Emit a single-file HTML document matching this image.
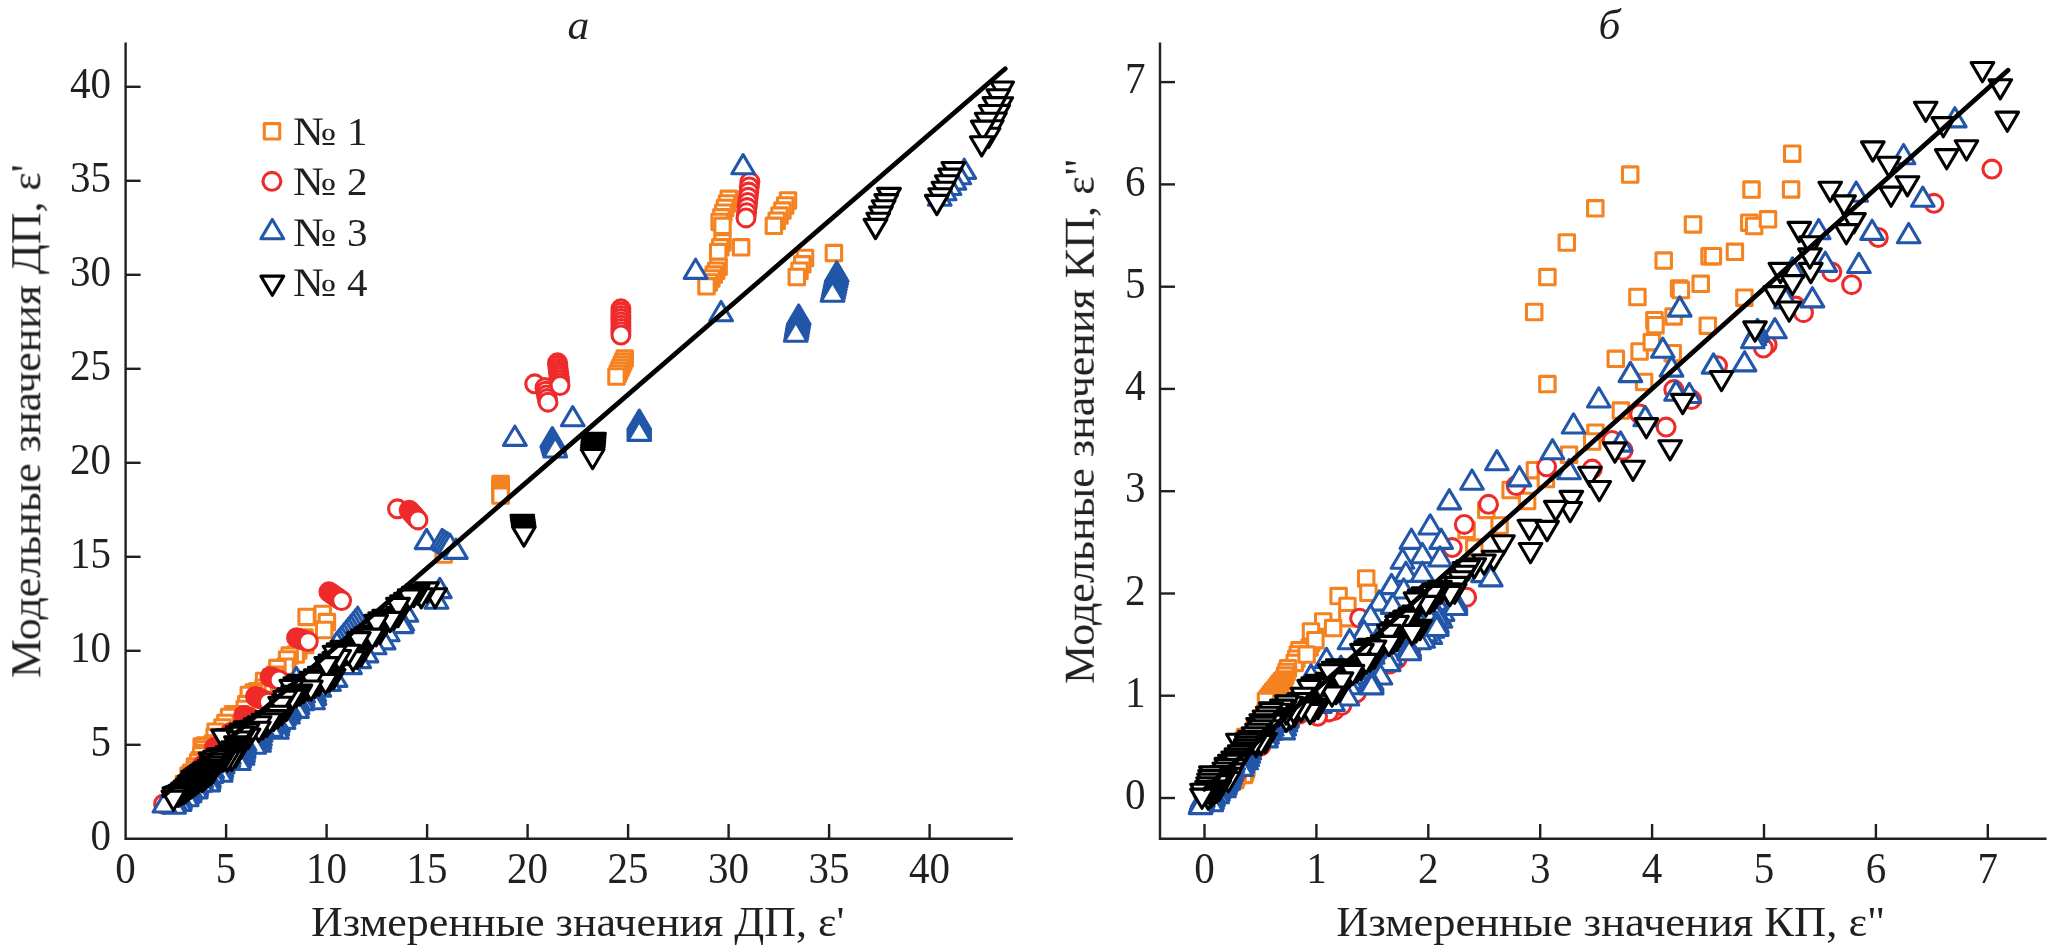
<!DOCTYPE html>
<html><head><meta charset="utf-8"><title>chart</title>
<style>html,body{margin:0;padding:0;background:#fff}body{width:2049px;height:952px;position:relative;overflow:hidden;font-family:"Liberation Serif",serif}</style>
</head><body>
<svg width="2049" height="952" viewBox="0 0 2049 952" style="position:absolute;left:0;top:0">
<rect width="2049" height="952" fill="#fff"/>
<g fill="#fff" stroke-width="3.1" stroke-linejoin="round">
<g stroke="#F58220"><rect x="296.8" y="629.7" width="15.4" height="15.4"/><rect x="297.5" y="637.3" width="15.4" height="15.4"/><rect x="290.6" y="642.7" width="15.4" height="15.4"/><rect x="288.0" y="646.9" width="15.4" height="15.4"/><rect x="282.0" y="647.9" width="15.4" height="15.4"/><rect x="279.4" y="651.7" width="15.4" height="15.4"/><rect x="277.9" y="659.0" width="15.4" height="15.4"/><rect x="269.7" y="660.4" width="15.4" height="15.4"/><rect x="267.5" y="667.1" width="15.4" height="15.4"/><rect x="263.5" y="669.7" width="15.4" height="15.4"/><rect x="256.4" y="673.2" width="15.4" height="15.4"/><rect x="256.0" y="680.0" width="15.4" height="15.4"/><rect x="249.6" y="683.6" width="15.4" height="15.4"/><rect x="246.0" y="684.9" width="15.4" height="15.4"/><rect x="241.1" y="687.2" width="15.4" height="15.4"/><rect x="238.6" y="696.4" width="15.4" height="15.4"/><rect x="237.0" y="701.3" width="15.4" height="15.4"/><rect x="233.2" y="706.6" width="15.4" height="15.4"/><rect x="225.3" y="706.5" width="15.4" height="15.4"/><rect x="221.4" y="709.3" width="15.4" height="15.4"/><rect x="217.7" y="715.3" width="15.4" height="15.4"/><rect x="214.8" y="719.8" width="15.4" height="15.4"/><rect x="207.9" y="724.0" width="15.4" height="15.4"/><rect x="206.9" y="729.3" width="15.4" height="15.4"/><rect x="205.2" y="735.9" width="15.4" height="15.4"/><rect x="197.1" y="737.7" width="15.4" height="15.4"/><rect x="194.0" y="738.9" width="15.4" height="15.4"/><rect x="195.6" y="741.8" width="15.4" height="15.4"/><rect x="195.4" y="745.4" width="15.4" height="15.4"/><rect x="193.6" y="747.8" width="15.4" height="15.4"/><rect x="191.8" y="752.5" width="15.4" height="15.4"/><rect x="190.4" y="754.7" width="15.4" height="15.4"/><rect x="187.3" y="758.7" width="15.4" height="15.4"/><rect x="187.2" y="761.8" width="15.4" height="15.4"/><rect x="183.5" y="765.1" width="15.4" height="15.4"/><rect x="180.9" y="767.9" width="15.4" height="15.4"/><rect x="181.6" y="771.3" width="15.4" height="15.4"/><rect x="179.3" y="775.3" width="15.4" height="15.4"/><rect x="176.2" y="776.3" width="15.4" height="15.4"/><rect x="177.3" y="781.1" width="15.4" height="15.4"/><rect x="175.3" y="784.7" width="15.4" height="15.4"/><rect x="298.9" y="609.2" width="15.4" height="15.4"/><rect x="315.0" y="606.3" width="15.4" height="15.4"/><rect x="319.2" y="614.4" width="15.4" height="15.4"/><rect x="316.5" y="622.3" width="15.4" height="15.4"/><rect x="435.9" y="546.8" width="15.4" height="15.4"/><rect x="492.9" y="476.3" width="15.4" height="15.4"/><rect x="492.9" y="478.6" width="15.4" height="15.4"/><rect x="492.9" y="480.9" width="15.4" height="15.4"/><rect x="492.9" y="483.3" width="15.4" height="15.4"/><rect x="492.9" y="485.6" width="15.4" height="15.4"/><rect x="492.9" y="487.9" width="15.4" height="15.4"/><rect x="617.0" y="350.7" width="15.4" height="15.4"/><rect x="615.6" y="353.7" width="15.4" height="15.4"/><rect x="614.3" y="356.7" width="15.4" height="15.4"/><rect x="612.9" y="359.8" width="15.4" height="15.4"/><rect x="611.5" y="362.8" width="15.4" height="15.4"/><rect x="610.2" y="365.8" width="15.4" height="15.4"/><rect x="608.8" y="368.8" width="15.4" height="15.4"/><rect x="721.1" y="191.1" width="15.4" height="15.4"/><rect x="719.3" y="195.7" width="15.4" height="15.4"/><rect x="717.4" y="200.3" width="15.4" height="15.4"/><rect x="715.6" y="205.0" width="15.4" height="15.4"/><rect x="713.7" y="209.6" width="15.4" height="15.4"/><rect x="711.9" y="214.2" width="15.4" height="15.4"/><rect x="714.8" y="218.1" width="15.4" height="15.4"/><rect x="714.8" y="234.7" width="15.4" height="15.4"/><rect x="712.6" y="239.6" width="15.4" height="15.4"/><rect x="710.5" y="244.4" width="15.4" height="15.4"/><rect x="733.4" y="239.6" width="15.4" height="15.4"/><rect x="710.9" y="259.1" width="15.4" height="15.4"/><rect x="708.5" y="263.0" width="15.4" height="15.4"/><rect x="706.1" y="266.9" width="15.4" height="15.4"/><rect x="703.6" y="270.8" width="15.4" height="15.4"/><rect x="701.2" y="274.7" width="15.4" height="15.4"/><rect x="698.8" y="278.6" width="15.4" height="15.4"/><rect x="780.3" y="192.7" width="15.4" height="15.4"/><rect x="777.5" y="197.8" width="15.4" height="15.4"/><rect x="774.7" y="202.9" width="15.4" height="15.4"/><rect x="771.8" y="207.9" width="15.4" height="15.4"/><rect x="769.0" y="213.0" width="15.4" height="15.4"/><rect x="766.2" y="218.1" width="15.4" height="15.4"/><rect x="797.3" y="250.3" width="15.4" height="15.4"/><rect x="794.6" y="256.6" width="15.4" height="15.4"/><rect x="791.8" y="263.0" width="15.4" height="15.4"/><rect x="789.1" y="269.3" width="15.4" height="15.4"/><rect x="826.2" y="245.4" width="15.4" height="15.4"/></g>
<g stroke="#EE2A2A"><circle cx="255.5" cy="696.5" r="8.95"/><circle cx="257.3" cy="697.3" r="8.95"/><circle cx="259.1" cy="698.1" r="8.95"/><circle cx="260.9" cy="698.9" r="8.95"/><circle cx="262.8" cy="699.7" r="8.95"/><circle cx="264.6" cy="700.5" r="8.95"/><circle cx="266.4" cy="701.3" r="8.95"/><circle cx="268.3" cy="702.1" r="8.95"/><circle cx="243.6" cy="715.4" r="8.95"/><circle cx="245.3" cy="716.1" r="8.95"/><circle cx="247.0" cy="716.9" r="8.95"/><circle cx="248.6" cy="717.6" r="8.95"/><circle cx="250.3" cy="718.4" r="8.95"/><circle cx="252.0" cy="719.1" r="8.95"/><circle cx="253.7" cy="719.9" r="8.95"/><circle cx="255.3" cy="720.6" r="8.95"/><circle cx="230.3" cy="732.6" r="8.95"/><circle cx="231.9" cy="733.3" r="8.95"/><circle cx="233.4" cy="733.9" r="8.95"/><circle cx="234.9" cy="734.6" r="8.95"/><circle cx="236.4" cy="735.3" r="8.95"/><circle cx="237.9" cy="736.0" r="8.95"/><circle cx="239.5" cy="736.7" r="8.95"/><circle cx="241.0" cy="737.3" r="8.95"/><circle cx="214.5" cy="747.6" r="8.95"/><circle cx="215.8" cy="748.2" r="8.95"/><circle cx="217.2" cy="748.8" r="8.95"/><circle cx="218.6" cy="749.4" r="8.95"/><circle cx="219.9" cy="750.1" r="8.95"/><circle cx="221.3" cy="750.7" r="8.95"/><circle cx="222.7" cy="751.3" r="8.95"/><circle cx="224.0" cy="751.9" r="8.95"/><circle cx="202.6" cy="765.1" r="8.95"/><circle cx="203.8" cy="765.6" r="8.95"/><circle cx="205.0" cy="766.2" r="8.95"/><circle cx="206.2" cy="766.7" r="8.95"/><circle cx="207.5" cy="767.3" r="8.95"/><circle cx="208.7" cy="767.8" r="8.95"/><circle cx="209.9" cy="768.3" r="8.95"/><circle cx="211.1" cy="768.9" r="8.95"/><circle cx="189.9" cy="781.9" r="8.95"/><circle cx="190.9" cy="782.4" r="8.95"/><circle cx="192.0" cy="782.8" r="8.95"/><circle cx="193.1" cy="783.3" r="8.95"/><circle cx="194.1" cy="783.8" r="8.95"/><circle cx="195.2" cy="784.3" r="8.95"/><circle cx="196.3" cy="784.7" r="8.95"/><circle cx="197.3" cy="785.2" r="8.95"/><circle cx="174.1" cy="796.6" r="8.95"/><circle cx="175.0" cy="797.0" r="8.95"/><circle cx="175.9" cy="797.4" r="8.95"/><circle cx="176.9" cy="797.8" r="8.95"/><circle cx="177.8" cy="798.2" r="8.95"/><circle cx="178.7" cy="798.6" r="8.95"/><circle cx="179.6" cy="799.0" r="8.95"/><circle cx="180.5" cy="799.4" r="8.95"/><circle cx="163.6" cy="804.0" r="8.95"/><circle cx="270.1" cy="676.8" r="8.95"/><circle cx="272.3" cy="677.6" r="8.95"/><circle cx="274.6" cy="678.4" r="8.95"/><circle cx="276.8" cy="679.2" r="8.95"/><circle cx="279.0" cy="680.0" r="8.95"/><circle cx="296.6" cy="637.7" r="8.95"/><circle cx="298.9" cy="638.5" r="8.95"/><circle cx="301.3" cy="639.3" r="8.95"/><circle cx="303.6" cy="640.0" r="8.95"/><circle cx="306.0" cy="640.8" r="8.95"/><circle cx="308.3" cy="641.6" r="8.95"/><circle cx="328.9" cy="591.8" r="8.95"/><circle cx="330.7" cy="593.1" r="8.95"/><circle cx="332.5" cy="594.3" r="8.95"/><circle cx="334.3" cy="595.6" r="8.95"/><circle cx="336.2" cy="596.8" r="8.95"/><circle cx="338.0" cy="598.1" r="8.95"/><circle cx="339.8" cy="599.3" r="8.95"/><circle cx="341.6" cy="600.6" r="8.95"/><circle cx="397.5" cy="508.8" r="8.95"/><circle cx="409.2" cy="510.2" r="8.95"/><circle cx="410.7" cy="511.8" r="8.95"/><circle cx="412.1" cy="513.4" r="8.95"/><circle cx="413.6" cy="515.0" r="8.95"/><circle cx="415.1" cy="516.7" r="8.95"/><circle cx="416.5" cy="518.3" r="8.95"/><circle cx="418.0" cy="519.9" r="8.95"/><circle cx="534.7" cy="383.8" r="8.95"/><circle cx="545.0" cy="387.6" r="8.95"/><circle cx="545.8" cy="391.2" r="8.95"/><circle cx="546.5" cy="394.9" r="8.95"/><circle cx="547.2" cy="398.6" r="8.95"/><circle cx="548.0" cy="402.2" r="8.95"/><circle cx="557.5" cy="362.8" r="8.95"/><circle cx="557.8" cy="365.6" r="8.95"/><circle cx="558.1" cy="368.5" r="8.95"/><circle cx="558.4" cy="371.3" r="8.95"/><circle cx="558.8" cy="374.1" r="8.95"/><circle cx="559.1" cy="377.0" r="8.95"/><circle cx="559.4" cy="379.8" r="8.95"/><circle cx="559.7" cy="382.7" r="8.95"/><circle cx="560.0" cy="385.5" r="8.95"/><circle cx="620.9" cy="308.8" r="8.95"/><circle cx="620.9" cy="312.1" r="8.95"/><circle cx="620.9" cy="315.4" r="8.95"/><circle cx="620.9" cy="318.6" r="8.95"/><circle cx="620.9" cy="321.9" r="8.95"/><circle cx="620.9" cy="325.2" r="8.95"/><circle cx="620.9" cy="328.4" r="8.95"/><circle cx="620.9" cy="331.7" r="8.95"/><circle cx="620.9" cy="335.0" r="8.95"/><circle cx="749.9" cy="181.8" r="8.95"/><circle cx="749.3" cy="187.0" r="8.95"/><circle cx="748.8" cy="192.1" r="8.95"/><circle cx="748.2" cy="197.3" r="8.95"/><circle cx="747.7" cy="202.4" r="8.95"/><circle cx="747.1" cy="207.6" r="8.95"/><circle cx="746.6" cy="212.7" r="8.95"/><circle cx="746.0" cy="217.9" r="8.95"/></g>
<g stroke="#2256A8"><path d="M428.4 597.6L439.8 578.4L451.2 597.6Z"/><path d="M425.1 608.2L436.5 589.0L447.9 608.2Z"/><path d="M395.0 621.2L406.4 602.0L417.8 621.2Z"/><path d="M390.9 630.2L402.3 611.0L413.7 630.2Z"/><path d="M390.1 632.6L401.5 613.4L412.9 632.6Z"/><path d="M376.3 640.8L387.7 621.6L399.1 640.8Z"/><path d="M372.2 648.9L383.6 629.7L395.0 648.9Z"/><path d="M363.2 653.8L374.6 634.6L386.0 653.8Z"/><path d="M355.1 661.9L366.5 642.7L377.9 661.9Z"/><path d="M347.8 667.6L359.2 648.4L370.6 667.6Z"/><path d="M338.6 673.6L350.0 654.4L361.4 673.6Z"/><path d="M324.1 686.4L335.5 667.2L346.9 686.4Z"/><path d="M317.6 690.4L329.0 671.2L340.4 690.4Z"/><path d="M307.9 696.1L319.3 676.9L330.7 696.1Z"/><path d="M303.0 704.3L314.4 685.1L325.8 704.3Z"/><path d="M291.6 708.4L303.0 689.2L314.4 708.4Z"/><path d="M324.8 653.2L336.2 634.0L347.6 653.2Z"/><path d="M284.9 686.6L296.3 667.4L307.7 686.6Z"/><path d="M302.9 700.8L314.2 681.6L325.6 700.8Z"/><path d="M302.3 704.8L313.6 685.6L325.0 704.8Z"/><path d="M301.7 708.8L313.1 689.6L324.4 708.8Z"/><path d="M291.9 702.0L303.3 682.8L314.6 702.0Z"/><path d="M291.3 705.8L302.7 686.6L314.0 705.8Z"/><path d="M290.8 709.7L302.1 690.5L313.5 709.7Z"/><path d="M286.8 709.9L298.1 690.7L309.5 709.9Z"/><path d="M286.2 713.6L297.6 694.4L308.9 713.6Z"/><path d="M285.6 717.4L297.0 698.2L308.3 717.4Z"/><path d="M277.8 715.7L289.2 696.5L300.5 715.7Z"/><path d="M277.3 719.4L288.6 700.2L300.0 719.4Z"/><path d="M276.7 723.0L288.1 703.8L299.4 723.0Z"/><path d="M273.2 721.3L284.6 702.1L295.9 721.3Z"/><path d="M272.7 724.9L284.0 705.7L295.4 724.9Z"/><path d="M272.2 728.4L283.5 709.2L294.9 728.4Z"/><path d="M266.6 731.4L277.9 712.2L289.3 731.4Z"/><path d="M266.0 734.9L277.4 715.7L288.7 734.9Z"/><path d="M265.5 738.3L276.9 719.1L288.2 738.3Z"/><path d="M260.6 729.7L272.0 710.5L283.3 729.7Z"/><path d="M260.1 733.0L271.5 713.8L282.8 733.0Z"/><path d="M259.6 736.4L271.0 717.2L282.3 736.4Z"/><path d="M250.3 734.7L261.7 715.5L273.0 734.7Z"/><path d="M249.8 738.0L261.2 718.8L272.5 738.0Z"/><path d="M249.3 741.2L260.7 722.0L272.0 741.2Z"/><path d="M248.6 744.9L259.9 725.7L271.3 744.9Z"/><path d="M248.1 748.1L259.5 728.9L270.8 748.1Z"/><path d="M247.6 751.3L259.0 732.1L270.3 751.3Z"/><path d="M243.7 747.1L255.1 727.9L266.4 747.1Z"/><path d="M243.3 750.2L254.6 731.0L266.0 750.2Z"/><path d="M242.8 753.3L254.2 734.1L265.5 753.3Z"/><path d="M233.2 750.3L244.5 731.1L255.9 750.3Z"/><path d="M232.7 753.4L244.1 734.2L255.4 753.4Z"/><path d="M232.3 756.4L243.6 737.2L255.0 756.4Z"/><path d="M232.0 758.4L243.4 739.2L254.7 758.4Z"/><path d="M231.6 761.4L242.9 742.2L254.3 761.4Z"/><path d="M231.1 764.3L242.5 745.1L253.8 764.3Z"/><path d="M228.2 763.8L239.5 744.6L250.9 763.8Z"/><path d="M227.8 766.7L239.1 747.5L250.5 766.7Z"/><path d="M227.3 769.5L238.7 750.3L250.0 769.5Z"/><path d="M217.5 763.3L228.9 744.1L240.2 763.3Z"/><path d="M217.1 766.1L228.4 746.9L239.8 766.1Z"/><path d="M216.7 768.9L228.0 749.7L239.4 768.9Z"/><path d="M212.0 767.6L223.4 748.4L234.7 767.6Z"/><path d="M211.6 770.3L223.0 751.1L234.3 770.3Z"/><path d="M211.2 773.0L222.6 753.8L233.9 773.0Z"/><path d="M210.0 776.0L221.3 756.8L232.7 776.0Z"/><path d="M209.6 778.7L220.9 759.5L232.3 778.7Z"/><path d="M209.2 781.3L220.6 762.1L231.9 781.3Z"/><path d="M200.8 777.3L212.2 758.1L223.5 777.3Z"/><path d="M200.4 779.8L211.8 760.6L223.1 779.8Z"/><path d="M200.1 782.4L211.4 763.2L222.8 782.4Z"/><path d="M197.6 786.0L209.0 766.8L220.3 786.0Z"/><path d="M197.3 788.4L208.6 769.2L220.0 788.4Z"/><path d="M196.9 790.9L208.2 771.7L219.6 790.9Z"/><path d="M189.9 786.4L201.3 767.2L212.6 786.4Z"/><path d="M189.6 788.8L200.9 769.6L212.3 788.8Z"/><path d="M189.2 791.2L200.6 772.0L211.9 791.2Z"/><path d="M185.0 793.3L196.4 774.1L207.7 793.3Z"/><path d="M184.7 795.6L196.0 776.4L207.4 795.6Z"/><path d="M184.4 797.9L195.7 778.7L207.1 797.9Z"/><path d="M178.9 797.4L190.2 778.2L201.6 797.4Z"/><path d="M178.6 799.6L189.9 780.4L201.3 799.6Z"/><path d="M178.2 801.8L189.6 782.6L200.9 801.8Z"/><path d="M175.9 801.4L187.3 782.2L198.6 801.4Z"/><path d="M175.6 803.5L187.0 784.3L198.3 803.5Z"/><path d="M175.3 805.7L186.7 786.5L198.0 805.7Z"/><path d="M168.9 806.4L180.2 787.2L191.6 806.4Z"/><path d="M168.6 808.5L179.9 789.3L191.3 808.5Z"/><path d="M168.2 810.5L179.6 791.3L190.9 810.5Z"/><path d="M163.3 809.3L174.6 790.1L186.0 809.3Z"/><path d="M163.0 811.2L174.3 792.0L185.7 811.2Z"/><path d="M162.7 813.2L174.0 794.0L185.4 813.2Z"/><path d="M153.1 812.0L164.4 792.8L175.8 812.0Z"/><path d="M346.3 626.4L357.7 607.2L369.1 626.4Z"/><path d="M344.0 629.2L355.4 610.0L366.8 629.2Z"/><path d="M341.7 632.0L353.1 612.8L364.4 632.0Z"/><path d="M339.4 634.8L350.8 615.6L362.2 634.8Z"/><path d="M337.1 637.6L348.5 618.4L359.9 637.6Z"/><path d="M334.8 640.4L346.2 621.2L357.6 640.4Z"/><path d="M332.5 643.2L343.9 624.0L355.2 643.2Z"/><path d="M330.2 646.0L341.6 626.8L353.0 646.0Z"/><path d="M327.9 648.8L339.3 629.6L350.7 648.8Z"/><path d="M325.6 651.6L337.0 632.4L348.4 651.6Z"/><path d="M415.2 548.6L426.6 529.4L438.0 548.6Z"/><path d="M430.8 548.6L442.2 529.4L453.6 548.6Z"/><path d="M433.4 550.2L444.8 531.0L456.2 550.2Z"/><path d="M436.0 551.8L447.4 532.6L458.8 551.8Z"/><path d="M438.6 553.4L450.0 534.2L461.4 553.4Z"/><path d="M444.5 558.4L455.9 539.2L467.2 558.4Z"/><path d="M503.5 445.4L514.9 426.2L526.2 445.4Z"/><path d="M540.9 446.8L552.3 427.6L563.6 446.8Z"/><path d="M541.5 448.8L552.9 429.6L564.2 448.8Z"/><path d="M542.1 450.9L553.5 431.7L564.8 450.9Z"/><path d="M542.7 452.9L554.0 433.7L565.4 452.9Z"/><path d="M543.3 455.0L554.6 435.8L566.0 455.0Z"/><path d="M543.9 457.0L555.2 437.8L566.6 457.0Z"/><path d="M561.4 425.8L572.7 406.6L584.1 425.8Z"/><path d="M627.9 429.3L639.3 410.1L650.6 429.3Z"/><path d="M627.9 431.5L639.3 412.3L650.6 431.5Z"/><path d="M627.9 433.7L639.3 414.5L650.6 433.7Z"/><path d="M627.9 436.0L639.3 416.8L650.6 436.0Z"/><path d="M627.9 438.2L639.3 419.0L650.6 438.2Z"/><path d="M627.9 440.4L639.3 421.2L650.6 440.4Z"/><path d="M709.8 320.7L721.1 301.5L732.5 320.7Z"/><path d="M684.2 278.4L695.6 259.2L707.0 278.4Z"/><path d="M731.8 173.8L743.1 154.6L754.5 173.8Z"/><path d="M787.4 324.2L798.7 305.0L810.1 324.2Z"/><path d="M786.9 326.6L798.3 307.4L809.6 326.6Z"/><path d="M786.5 329.1L797.9 309.9L809.2 329.1Z"/><path d="M786.1 331.5L797.5 312.3L808.8 331.5Z"/><path d="M785.7 333.9L797.0 314.7L808.4 333.9Z"/><path d="M785.3 336.3L796.6 317.1L808.0 336.3Z"/><path d="M784.9 338.8L796.2 319.6L807.6 338.8Z"/><path d="M784.4 341.2L795.8 322.0L807.1 341.2Z"/><path d="M825.4 281.2L836.8 262.0L848.1 281.2Z"/><path d="M824.8 284.1L836.2 264.9L847.5 284.1Z"/><path d="M824.2 286.9L835.6 267.7L846.9 286.9Z"/><path d="M823.6 289.8L835.0 270.6L846.3 289.8Z"/><path d="M823.0 292.6L834.3 273.4L845.7 292.6Z"/><path d="M822.4 295.5L833.7 276.3L845.1 295.5Z"/><path d="M821.8 298.3L833.1 279.1L844.5 298.3Z"/><path d="M821.1 301.2L832.5 282.0L843.9 301.2Z"/><path d="M952.9 178.4L964.2 159.2L975.6 178.4Z"/><path d="M948.0 183.8L959.3 164.6L970.7 183.8Z"/><path d="M943.1 189.1L954.4 169.9L965.8 189.1Z"/><path d="M938.1 194.5L949.5 175.3L960.9 194.5Z"/><path d="M933.2 199.8L944.6 180.6L956.0 199.8Z"/><path d="M928.4 205.2L939.7 186.0L951.1 205.2Z"/></g>
<g stroke="#000000"><path d="M423.8 588.7L435.1 607.9L446.5 588.7Z"/><path d="M415.6 582.9L427.0 602.1L438.4 582.9Z"/><path d="M409.9 588.7L421.3 607.9L432.7 588.7Z"/><path d="M406.3 584.9L417.7 604.1L429.1 584.9Z"/><path d="M394.6 593.4L406.0 612.6L417.4 593.4Z"/><path d="M386.8 607.4L398.1 626.6L409.5 607.4Z"/><path d="M372.8 610.3L384.2 629.5L395.6 610.3Z"/><path d="M368.8 624.1L380.2 643.3L391.6 624.1Z"/><path d="M355.5 627.6L366.9 646.8L378.2 627.6Z"/><path d="M349.8 646.7L361.1 665.9L372.5 646.7Z"/><path d="M345.1 640.3L356.5 659.5L367.9 640.3Z"/><path d="M335.8 645.5L347.2 664.7L358.6 645.5Z"/><path d="M331.2 641.2L342.6 660.4L354.0 641.2Z"/><path d="M323.0 652.6L334.4 671.8L345.8 652.6Z"/><path d="M322.2 669.5L333.6 688.7L345.0 669.5Z"/><path d="M308.4 667.2L319.8 686.4L331.2 667.2Z"/><path d="M307.5 676.0L318.9 695.2L330.2 676.0Z"/><path d="M296.1 680.9L307.5 700.1L318.9 680.9Z"/><path d="M288.0 675.4L299.4 694.6L310.8 675.4Z"/><path d="M402.3 587.4L413.7 606.6L425.1 587.4Z"/><path d="M390.6 595.9L402.0 615.1L413.4 595.9Z"/><path d="M382.8 609.9L394.1 629.1L405.5 609.9Z"/><path d="M368.8 612.8L380.2 632.0L391.6 612.8Z"/><path d="M364.8 626.6L376.2 645.8L387.6 626.6Z"/><path d="M351.5 630.1L362.9 649.3L374.2 630.1Z"/><path d="M345.8 649.2L357.1 668.4L368.5 649.2Z"/><path d="M341.1 642.8L352.5 662.0L363.9 642.8Z"/><path d="M331.8 648.0L343.2 667.2L354.6 648.0Z"/><path d="M327.2 643.7L338.6 662.9L350.0 643.7Z"/><path d="M319.0 655.1L330.4 674.3L341.8 655.1Z"/><path d="M318.2 672.0L329.6 691.2L341.0 672.0Z"/><path d="M304.4 669.7L315.8 688.9L327.2 669.7Z"/><path d="M303.5 678.5L314.9 697.7L326.2 678.5Z"/><path d="M292.1 683.4L303.5 702.6L314.9 683.4Z"/><path d="M284.0 677.9L295.4 697.1L306.8 677.9Z"/><path d="M398.3 589.9L409.7 609.1L421.1 589.9Z"/><path d="M386.6 598.4L398.0 617.6L409.4 598.4Z"/><path d="M378.8 612.4L390.1 631.6L401.5 612.4Z"/><path d="M364.8 615.3L376.2 634.5L387.6 615.3Z"/><path d="M360.8 629.1L372.2 648.3L383.6 629.1Z"/><path d="M347.5 632.6L358.9 651.8L370.2 632.6Z"/><path d="M341.8 651.7L353.1 670.9L364.5 651.7Z"/><path d="M337.1 645.3L348.5 664.5L359.9 645.3Z"/><path d="M327.8 650.5L339.2 669.7L350.6 650.5Z"/><path d="M323.2 646.2L334.6 665.4L346.0 646.2Z"/><path d="M315.0 657.6L326.4 676.8L337.8 657.6Z"/><path d="M314.2 674.5L325.6 693.7L337.0 674.5Z"/><path d="M300.4 672.2L311.8 691.4L323.2 672.2Z"/><path d="M299.5 681.0L310.9 700.2L322.2 681.0Z"/><path d="M288.1 685.9L299.5 705.1L310.9 685.9Z"/><path d="M280.0 680.4L291.4 699.6L302.8 680.4Z"/><path d="M289.1 685.1L300.4 704.3L311.8 685.1Z"/><path d="M281.8 686.2L293.1 705.4L304.5 686.2Z"/><path d="M276.8 692.3L288.1 711.5L299.5 692.3Z"/><path d="M275.1 701.3L286.4 720.5L297.8 701.3Z"/><path d="M270.5 705.6L281.8 724.8L293.2 705.6Z"/><path d="M266.3 708.7L277.6 727.9L289.0 708.7Z"/><path d="M256.2 711.7L267.6 730.9L278.9 711.7Z"/><path d="M255.4 717.2L266.8 736.4L278.1 717.2Z"/><path d="M244.3 718.8L255.6 738.0L267.0 718.8Z"/><path d="M241.4 722.1L252.7 741.3L264.1 722.1Z"/><path d="M234.3 721.9L245.6 741.1L257.0 721.9Z"/><path d="M285.1 687.6L296.4 706.8L307.8 687.6Z"/><path d="M277.8 688.7L289.1 707.9L300.5 688.7Z"/><path d="M272.8 694.8L284.1 714.0L295.5 694.8Z"/><path d="M271.1 703.8L282.4 723.0L293.8 703.8Z"/><path d="M266.5 708.1L277.8 727.3L289.2 708.1Z"/><path d="M262.3 711.2L273.6 730.4L285.0 711.2Z"/><path d="M252.2 714.2L263.6 733.4L274.9 714.2Z"/><path d="M251.4 719.7L262.8 738.9L274.1 719.7Z"/><path d="M240.3 721.3L251.6 740.5L263.0 721.3Z"/><path d="M237.4 724.6L248.7 743.8L260.1 724.6Z"/><path d="M230.3 724.4L241.6 743.6L253.0 724.4Z"/><path d="M281.1 690.1L292.4 709.3L303.8 690.1Z"/><path d="M273.8 691.2L285.1 710.4L296.5 691.2Z"/><path d="M268.8 697.3L280.1 716.5L291.5 697.3Z"/><path d="M267.1 706.3L278.4 725.5L289.8 706.3Z"/><path d="M262.5 710.6L273.8 729.8L285.2 710.6Z"/><path d="M258.3 713.7L269.6 732.9L281.0 713.7Z"/><path d="M248.2 716.7L259.6 735.9L270.9 716.7Z"/><path d="M247.4 722.2L258.8 741.4L270.1 722.2Z"/><path d="M236.3 723.8L247.6 743.0L259.0 723.8Z"/><path d="M233.4 727.1L244.7 746.3L256.1 727.1Z"/><path d="M226.3 726.9L237.6 746.1L249.0 726.9Z"/><path d="M237.1 729.1L248.4 748.3L259.8 729.1Z"/><path d="M232.0 729.3L243.4 748.5L254.7 729.3Z"/><path d="M226.9 729.5L238.3 748.7L249.6 729.5Z"/><path d="M221.9 729.7L233.2 748.9L244.6 729.7Z"/><path d="M216.8 729.9L228.1 749.1L239.5 729.9Z"/><path d="M211.7 730.1L223.1 749.3L234.4 730.1Z"/><path d="M230.3 727.1L241.6 746.3L253.0 727.1Z"/><path d="M227.4 732.0L238.8 751.2L250.1 732.0Z"/><path d="M224.6 736.9L235.9 756.1L247.3 736.9Z"/><path d="M221.7 741.9L233.1 761.1L244.4 741.9Z"/><path d="M218.9 746.8L230.2 766.0L241.6 746.8Z"/><path d="M216.0 751.7L227.4 770.9L238.7 751.7Z"/><path d="M229.4 739.1L240.8 758.3L252.1 739.1Z"/><path d="M226.1 741.0L237.4 760.2L248.8 741.0Z"/><path d="M222.8 742.9L234.1 762.1L245.5 742.9Z"/><path d="M219.5 744.8L230.8 764.0L242.2 744.8Z"/><path d="M216.1 746.8L227.5 766.0L238.8 746.8Z"/><path d="M212.8 748.7L224.2 767.9L235.5 748.7Z"/><path d="M224.0 747.9L235.3 767.1L246.7 747.9Z"/><path d="M220.6 748.1L232.0 767.3L243.3 748.1Z"/><path d="M217.3 748.3L228.6 767.5L240.0 748.3Z"/><path d="M213.9 748.6L225.3 767.8L236.6 748.6Z"/><path d="M210.6 748.8L222.0 768.0L233.3 748.8Z"/><path d="M207.3 749.0L218.6 768.2L230.0 749.0Z"/><path d="M220.4 751.3L231.8 770.5L243.1 751.3Z"/><path d="M216.2 751.7L227.5 770.9L238.9 751.7Z"/><path d="M211.9 752.0L223.3 771.2L234.6 752.0Z"/><path d="M207.7 752.3L219.0 771.5L230.4 752.3Z"/><path d="M203.4 752.7L214.8 771.9L226.1 752.7Z"/><path d="M199.2 753.0L210.5 772.2L221.9 753.0Z"/><path d="M211.1 751.6L222.5 770.8L233.8 751.6Z"/><path d="M208.0 753.8L219.3 773.0L230.7 753.8Z"/><path d="M204.8 755.9L216.2 775.1L227.5 755.9Z"/><path d="M201.6 758.1L213.0 777.3L224.3 758.1Z"/><path d="M198.5 760.2L209.8 779.4L221.2 760.2Z"/><path d="M195.3 762.4L206.6 781.6L218.0 762.4Z"/><path d="M203.7 751.2L215.0 770.4L226.4 751.2Z"/><path d="M202.1 754.2L213.4 773.4L224.8 754.2Z"/><path d="M200.5 757.3L211.8 776.5L223.2 757.3Z"/><path d="M198.8 760.4L210.2 779.6L221.5 760.4Z"/><path d="M197.2 763.5L208.6 782.7L219.9 763.5Z"/><path d="M195.6 766.5L207.0 785.7L218.3 766.5Z"/><path d="M201.1 763.8L212.5 783.0L223.8 763.8Z"/><path d="M199.0 765.5L210.3 784.7L221.7 765.5Z"/><path d="M196.9 767.2L208.2 786.4L219.6 767.2Z"/><path d="M194.8 768.9L206.1 788.1L217.5 768.9Z"/><path d="M192.7 770.6L204.0 789.8L215.4 770.6Z"/><path d="M190.6 772.4L201.9 791.6L213.3 772.4Z"/><path d="M193.1 763.5L204.5 782.7L215.8 763.5Z"/><path d="M190.8 765.1L202.2 784.3L213.5 765.1Z"/><path d="M188.5 766.7L199.9 785.9L211.2 766.7Z"/><path d="M186.2 768.3L197.6 787.5L208.9 768.3Z"/><path d="M184.0 770.0L195.3 789.2L206.7 770.0Z"/><path d="M181.7 771.6L193.0 790.8L204.4 771.6Z"/><path d="M187.6 770.4L198.9 789.6L210.3 770.4Z"/><path d="M185.7 771.6L197.0 790.8L208.4 771.6Z"/><path d="M183.8 772.8L195.2 792.0L206.5 772.8Z"/><path d="M181.9 773.9L193.3 793.1L204.6 773.9Z"/><path d="M180.1 775.1L191.4 794.3L202.8 775.1Z"/><path d="M178.2 776.3L189.5 795.5L200.9 776.3Z"/><path d="M186.5 774.0L197.8 793.2L209.2 774.0Z"/><path d="M184.0 775.8L195.3 795.0L206.7 775.8Z"/><path d="M181.5 777.6L192.8 796.8L204.2 777.6Z"/><path d="M179.0 779.5L190.3 798.7L201.7 779.5Z"/><path d="M176.5 781.3L187.8 800.5L199.2 781.3Z"/><path d="M174.0 783.2L185.3 802.4L196.7 783.2Z"/><path d="M178.7 777.0L190.0 796.2L201.4 777.0Z"/><path d="M176.4 779.1L187.7 798.3L199.1 779.1Z"/><path d="M174.1 781.1L185.5 800.3L196.8 781.1Z"/><path d="M171.8 783.1L183.2 802.3L194.5 783.1Z"/><path d="M169.6 785.1L180.9 804.3L192.3 785.1Z"/><path d="M167.3 787.1L178.6 806.3L190.0 787.1Z"/><path d="M173.4 783.9L184.7 803.1L196.1 783.9Z"/><path d="M171.3 784.7L182.6 803.9L194.0 784.7Z"/><path d="M169.2 785.5L180.6 804.7L191.9 785.5Z"/><path d="M167.2 786.3L178.5 805.5L189.9 786.3Z"/><path d="M165.1 787.1L176.5 806.3L187.8 787.1Z"/><path d="M163.0 787.9L174.4 807.1L185.7 787.9Z"/><path d="M162.1 791.1L173.4 810.3L184.8 791.1Z"/><path d="M510.9 515.2L522.2 534.4L533.6 515.2Z"/><path d="M511.2 517.5L522.5 536.7L533.9 517.5Z"/><path d="M511.5 519.9L522.9 539.1L534.2 519.9Z"/><path d="M511.9 522.2L523.2 541.4L534.6 522.2Z"/><path d="M512.2 524.6L523.6 543.8L534.9 524.6Z"/><path d="M512.5 526.9L523.9 546.1L535.2 526.9Z"/><path d="M582.6 433.4L594.0 452.6L605.4 433.4Z"/><path d="M582.4 435.7L593.8 454.9L605.1 435.7Z"/><path d="M582.2 438.0L593.6 457.2L605.0 438.0Z"/><path d="M582.0 440.3L593.4 459.5L604.8 440.3Z"/><path d="M581.9 442.6L593.2 461.8L604.6 442.6Z"/><path d="M581.6 444.9L593.0 464.1L604.4 444.9Z"/><path d="M581.5 447.2L592.8 466.4L604.2 447.2Z"/><path d="M581.2 449.5L592.6 468.7L604.0 449.5Z"/><path d="M877.6 188.4L889.0 207.6L900.4 188.4Z"/><path d="M874.9 194.6L886.3 213.8L897.6 194.6Z"/><path d="M872.2 200.8L883.6 220.0L895.0 200.8Z"/><path d="M869.5 207.0L880.9 226.2L892.2 207.0Z"/><path d="M866.9 213.2L878.2 232.4L889.6 213.2Z"/><path d="M864.1 219.4L875.5 238.6L886.9 219.4Z"/><path d="M942.0 162.5L953.4 181.7L964.8 162.5Z"/><path d="M938.7 169.1L950.1 188.3L961.4 169.1Z"/><path d="M935.4 175.7L946.8 194.9L958.1 175.7Z"/><path d="M932.1 182.2L943.4 201.4L954.8 182.2Z"/><path d="M928.8 188.8L940.1 208.0L951.5 188.8Z"/><path d="M925.4 195.4L936.8 214.6L948.1 195.4Z"/><path d="M989.9 97.7L1001.3 116.9L1012.6 97.7Z"/><path d="M986.8 105.4L998.1 124.5L1009.5 105.4Z"/><path d="M983.6 113.0L995.0 132.2L1006.3 113.0Z"/><path d="M980.4 120.7L991.8 139.8L1003.1 120.7Z"/><path d="M977.2 128.3L988.6 147.5L1000.0 128.3Z"/><path d="M990.9 82.0L1002.3 101.2L1013.6 82.0Z"/><path d="M987.0 89.8L998.4 109.0L1009.7 89.8Z"/><path d="M983.1 97.6L994.5 116.8L1005.8 97.6Z"/><path d="M979.2 105.5L990.5 124.7L1001.9 105.5Z"/><path d="M975.3 113.3L986.6 132.5L998.0 113.3Z"/><path d="M971.4 121.1L982.7 140.3L994.1 121.1Z"/><path d="M970.4 136.7L981.7 155.9L993.1 136.7Z"/></g>
<g stroke="#F58220"><rect x="1307.2" y="625.7" width="15.4" height="15.4"/><rect x="1305.4" y="630.4" width="15.4" height="15.4"/><rect x="1303.7" y="635.1" width="15.4" height="15.4"/><rect x="1301.9" y="639.8" width="15.4" height="15.4"/><rect x="1291.7" y="642.6" width="15.4" height="15.4"/><rect x="1290.1" y="646.8" width="15.4" height="15.4"/><rect x="1288.6" y="651.0" width="15.4" height="15.4"/><rect x="1287.0" y="655.2" width="15.4" height="15.4"/><rect x="1280.3" y="660.5" width="15.4" height="15.4"/><rect x="1278.9" y="664.2" width="15.4" height="15.4"/><rect x="1277.5" y="667.9" width="15.4" height="15.4"/><rect x="1276.1" y="671.7" width="15.4" height="15.4"/><rect x="1274.3" y="673.3" width="15.4" height="15.4"/><rect x="1272.5" y="675.5" width="15.4" height="15.4"/><rect x="1270.7" y="677.7" width="15.4" height="15.4"/><rect x="1269.0" y="680.0" width="15.4" height="15.4"/><rect x="1267.2" y="682.2" width="15.4" height="15.4"/><rect x="1265.4" y="684.4" width="15.4" height="15.4"/><rect x="1263.6" y="686.6" width="15.4" height="15.4"/><rect x="1261.9" y="688.9" width="15.4" height="15.4"/><rect x="1260.1" y="691.1" width="15.4" height="15.4"/><rect x="1258.3" y="693.3" width="15.4" height="15.4"/><rect x="1258.1" y="704.7" width="15.4" height="15.4"/><rect x="1257.2" y="707.1" width="15.4" height="15.4"/><rect x="1256.3" y="709.4" width="15.4" height="15.4"/><rect x="1255.4" y="711.7" width="15.4" height="15.4"/><rect x="1254.5" y="714.1" width="15.4" height="15.4"/><rect x="1252.7" y="713.9" width="15.4" height="15.4"/><rect x="1251.9" y="716.2" width="15.4" height="15.4"/><rect x="1251.1" y="718.4" width="15.4" height="15.4"/><rect x="1250.2" y="720.6" width="15.4" height="15.4"/><rect x="1249.4" y="722.9" width="15.4" height="15.4"/><rect x="1246.9" y="722.4" width="15.4" height="15.4"/><rect x="1246.1" y="724.5" width="15.4" height="15.4"/><rect x="1245.3" y="726.7" width="15.4" height="15.4"/><rect x="1244.5" y="728.8" width="15.4" height="15.4"/><rect x="1243.7" y="730.9" width="15.4" height="15.4"/><rect x="1237.6" y="729.2" width="15.4" height="15.4"/><rect x="1236.9" y="731.2" width="15.4" height="15.4"/><rect x="1236.1" y="733.2" width="15.4" height="15.4"/><rect x="1235.4" y="735.3" width="15.4" height="15.4"/><rect x="1234.6" y="737.3" width="15.4" height="15.4"/><rect x="1238.4" y="739.1" width="15.4" height="15.4"/><rect x="1237.6" y="741.0" width="15.4" height="15.4"/><rect x="1236.9" y="742.9" width="15.4" height="15.4"/><rect x="1236.2" y="744.9" width="15.4" height="15.4"/><rect x="1235.5" y="746.8" width="15.4" height="15.4"/><rect x="1239.7" y="749.1" width="15.4" height="15.4"/><rect x="1239.0" y="751.0" width="15.4" height="15.4"/><rect x="1238.3" y="752.8" width="15.4" height="15.4"/><rect x="1237.6" y="754.6" width="15.4" height="15.4"/><rect x="1237.0" y="756.4" width="15.4" height="15.4"/><rect x="1238.7" y="760.3" width="15.4" height="15.4"/><rect x="1238.1" y="762.0" width="15.4" height="15.4"/><rect x="1237.4" y="763.8" width="15.4" height="15.4"/><rect x="1236.8" y="765.5" width="15.4" height="15.4"/><rect x="1236.1" y="767.2" width="15.4" height="15.4"/><rect x="1229.8" y="766.0" width="15.4" height="15.4"/><rect x="1229.2" y="767.6" width="15.4" height="15.4"/><rect x="1228.6" y="769.2" width="15.4" height="15.4"/><rect x="1227.9" y="770.9" width="15.4" height="15.4"/><rect x="1227.3" y="772.5" width="15.4" height="15.4"/><rect x="1222.1" y="772.9" width="15.4" height="15.4"/><rect x="1221.5" y="774.4" width="15.4" height="15.4"/><rect x="1221.0" y="775.9" width="15.4" height="15.4"/><rect x="1220.4" y="777.4" width="15.4" height="15.4"/><rect x="1219.8" y="778.9" width="15.4" height="15.4"/><rect x="1213.5" y="779.9" width="15.4" height="15.4"/><rect x="1213.0" y="781.3" width="15.4" height="15.4"/><rect x="1212.4" y="782.7" width="15.4" height="15.4"/><rect x="1211.9" y="784.1" width="15.4" height="15.4"/><rect x="1211.4" y="785.5" width="15.4" height="15.4"/><rect x="1358.5" y="570.8" width="15.4" height="15.4"/><rect x="1360.7" y="585.1" width="15.4" height="15.4"/><rect x="1330.9" y="588.4" width="15.4" height="15.4"/><rect x="1339.7" y="598.3" width="15.4" height="15.4"/><rect x="1339.7" y="610.5" width="15.4" height="15.4"/><rect x="1315.5" y="613.8" width="15.4" height="15.4"/><rect x="1325.4" y="620.4" width="15.4" height="15.4"/><rect x="1303.3" y="623.7" width="15.4" height="15.4"/><rect x="1307.7" y="632.5" width="15.4" height="15.4"/><rect x="1298.9" y="646.9" width="15.4" height="15.4"/><rect x="1458.9" y="522.2" width="15.4" height="15.4"/><rect x="1491.9" y="517.8" width="15.4" height="15.4"/><rect x="1466.6" y="539.9" width="15.4" height="15.4"/><rect x="1539.7" y="376.4" width="15.4" height="15.4"/><rect x="1608.1" y="351.1" width="15.4" height="15.4"/><rect x="1631.9" y="343.8" width="15.4" height="15.4"/><rect x="1644.1" y="334.5" width="15.4" height="15.4"/><rect x="1665.0" y="345.5" width="15.4" height="15.4"/><rect x="1636.4" y="374.2" width="15.4" height="15.4"/><rect x="1613.2" y="402.9" width="15.4" height="15.4"/><rect x="1587.8" y="425.0" width="15.4" height="15.4"/><rect x="1584.5" y="433.8" width="15.4" height="15.4"/><rect x="1561.3" y="447.0" width="15.4" height="15.4"/><rect x="1527.2" y="462.5" width="15.4" height="15.4"/><rect x="1538.2" y="471.3" width="15.4" height="15.4"/><rect x="1502.9" y="482.3" width="15.4" height="15.4"/><rect x="1519.4" y="493.3" width="15.4" height="15.4"/><rect x="1478.6" y="502.2" width="15.4" height="15.4"/><rect x="1622.5" y="166.9" width="15.4" height="15.4"/><rect x="1587.6" y="200.6" width="15.4" height="15.4"/><rect x="1559.1" y="234.8" width="15.4" height="15.4"/><rect x="1539.7" y="269.4" width="15.4" height="15.4"/><rect x="1526.5" y="304.3" width="15.4" height="15.4"/><rect x="1743.8" y="181.9" width="15.4" height="15.4"/><rect x="1685.3" y="216.7" width="15.4" height="15.4"/><rect x="1741.6" y="215.0" width="15.4" height="15.4"/><rect x="1746.4" y="218.3" width="15.4" height="15.4"/><rect x="1760.3" y="211.6" width="15.4" height="15.4"/><rect x="1727.2" y="244.1" width="15.4" height="15.4"/><rect x="1701.9" y="248.5" width="15.4" height="15.4"/><rect x="1705.2" y="248.5" width="15.4" height="15.4"/><rect x="1656.0" y="252.9" width="15.4" height="15.4"/><rect x="1693.0" y="276.1" width="15.4" height="15.4"/><rect x="1671.4" y="280.7" width="15.4" height="15.4"/><rect x="1673.2" y="282.3" width="15.4" height="15.4"/><rect x="1629.7" y="289.3" width="15.4" height="15.4"/><rect x="1736.7" y="290.0" width="15.4" height="15.4"/><rect x="1665.9" y="308.7" width="15.4" height="15.4"/><rect x="1646.7" y="312.5" width="15.4" height="15.4"/><rect x="1647.8" y="317.5" width="15.4" height="15.4"/><rect x="1700.1" y="318.0" width="15.4" height="15.4"/><rect x="1784.5" y="146.0" width="15.4" height="15.4"/><rect x="1783.4" y="181.7" width="15.4" height="15.4"/></g>
<g stroke="#EE2A2A"><circle cx="1396.8" cy="641.1" r="8.95"/><circle cx="1400.4" cy="642.7" r="8.95"/><circle cx="1404.1" cy="644.3" r="8.95"/><circle cx="1407.7" cy="646.0" r="8.95"/><circle cx="1411.4" cy="647.6" r="8.95"/><circle cx="1382.3" cy="641.5" r="8.95"/><circle cx="1385.9" cy="643.1" r="8.95"/><circle cx="1389.4" cy="644.6" r="8.95"/><circle cx="1393.0" cy="646.2" r="8.95"/><circle cx="1396.6" cy="647.8" r="8.95"/><circle cx="1375.2" cy="652.2" r="8.95"/><circle cx="1378.7" cy="653.8" r="8.95"/><circle cx="1382.1" cy="655.3" r="8.95"/><circle cx="1385.6" cy="656.9" r="8.95"/><circle cx="1389.1" cy="658.4" r="8.95"/><circle cx="1368.3" cy="657.8" r="8.95"/><circle cx="1371.7" cy="659.3" r="8.95"/><circle cx="1375.1" cy="660.8" r="8.95"/><circle cx="1378.5" cy="662.3" r="8.95"/><circle cx="1381.9" cy="663.8" r="8.95"/><circle cx="1355.9" cy="666.0" r="8.95"/><circle cx="1359.2" cy="667.5" r="8.95"/><circle cx="1362.5" cy="669.0" r="8.95"/><circle cx="1365.8" cy="670.4" r="8.95"/><circle cx="1369.1" cy="671.9" r="8.95"/><circle cx="1346.0" cy="672.0" r="8.95"/><circle cx="1349.3" cy="673.5" r="8.95"/><circle cx="1352.5" cy="674.9" r="8.95"/><circle cx="1355.7" cy="676.3" r="8.95"/><circle cx="1358.9" cy="677.7" r="8.95"/><circle cx="1334.4" cy="672.8" r="8.95"/><circle cx="1337.5" cy="674.2" r="8.95"/><circle cx="1340.6" cy="675.6" r="8.95"/><circle cx="1343.8" cy="676.9" r="8.95"/><circle cx="1346.9" cy="678.3" r="8.95"/><circle cx="1326.8" cy="681.6" r="8.95"/><circle cx="1329.8" cy="683.0" r="8.95"/><circle cx="1332.9" cy="684.3" r="8.95"/><circle cx="1335.9" cy="685.7" r="8.95"/><circle cx="1339.0" cy="687.0" r="8.95"/><circle cx="1318.3" cy="690.4" r="8.95"/><circle cx="1321.2" cy="691.7" r="8.95"/><circle cx="1324.2" cy="693.0" r="8.95"/><circle cx="1327.1" cy="694.3" r="8.95"/><circle cx="1330.1" cy="695.6" r="8.95"/><circle cx="1306.6" cy="695.2" r="8.95"/><circle cx="1309.5" cy="696.5" r="8.95"/><circle cx="1312.3" cy="697.7" r="8.95"/><circle cx="1315.2" cy="699.0" r="8.95"/><circle cx="1318.1" cy="700.3" r="8.95"/><circle cx="1295.8" cy="700.0" r="8.95"/><circle cx="1298.6" cy="701.2" r="8.95"/><circle cx="1301.4" cy="702.5" r="8.95"/><circle cx="1304.2" cy="703.7" r="8.95"/><circle cx="1306.9" cy="705.0" r="8.95"/><circle cx="1288.7" cy="709.3" r="8.95"/><circle cx="1291.4" cy="710.5" r="8.95"/><circle cx="1294.1" cy="711.7" r="8.95"/><circle cx="1296.8" cy="712.9" r="8.95"/><circle cx="1299.5" cy="714.1" r="8.95"/><circle cx="1279.5" cy="718.5" r="8.95"/><circle cx="1282.1" cy="719.7" r="8.95"/><circle cx="1284.7" cy="720.8" r="8.95"/><circle cx="1287.3" cy="722.0" r="8.95"/><circle cx="1289.9" cy="723.1" r="8.95"/><circle cx="1266.4" cy="721.6" r="8.95"/><circle cx="1268.9" cy="722.8" r="8.95"/><circle cx="1271.5" cy="723.9" r="8.95"/><circle cx="1274.0" cy="725.0" r="8.95"/><circle cx="1276.5" cy="726.1" r="8.95"/><circle cx="1260.4" cy="733.0" r="8.95"/><circle cx="1262.8" cy="734.1" r="8.95"/><circle cx="1265.3" cy="735.1" r="8.95"/><circle cx="1267.7" cy="736.2" r="8.95"/><circle cx="1270.2" cy="737.3" r="8.95"/><circle cx="1251.5" cy="741.7" r="8.95"/><circle cx="1253.9" cy="742.7" r="8.95"/><circle cx="1256.2" cy="743.8" r="8.95"/><circle cx="1258.6" cy="744.8" r="8.95"/><circle cx="1260.9" cy="745.9" r="8.95"/><circle cx="1243.1" cy="748.8" r="8.95"/><circle cx="1245.3" cy="749.8" r="8.95"/><circle cx="1247.6" cy="750.8" r="8.95"/><circle cx="1249.9" cy="751.8" r="8.95"/><circle cx="1252.1" cy="752.8" r="8.95"/><circle cx="1236.7" cy="759.8" r="8.95"/><circle cx="1238.9" cy="760.8" r="8.95"/><circle cx="1241.0" cy="761.7" r="8.95"/><circle cx="1243.2" cy="762.7" r="8.95"/><circle cx="1245.4" cy="763.7" r="8.95"/><circle cx="1228.6" cy="768.7" r="8.95"/><circle cx="1230.7" cy="769.6" r="8.95"/><circle cx="1232.8" cy="770.5" r="8.95"/><circle cx="1234.9" cy="771.5" r="8.95"/><circle cx="1237.0" cy="772.4" r="8.95"/><circle cx="1220.3" cy="776.3" r="8.95"/><circle cx="1222.3" cy="777.2" r="8.95"/><circle cx="1224.3" cy="778.1" r="8.95"/><circle cx="1226.3" cy="779.0" r="8.95"/><circle cx="1228.3" cy="779.9" r="8.95"/><circle cx="1212.9" cy="785.8" r="8.95"/><circle cx="1214.8" cy="786.7" r="8.95"/><circle cx="1216.7" cy="787.5" r="8.95"/><circle cx="1218.6" cy="788.4" r="8.95"/><circle cx="1220.5" cy="789.2" r="8.95"/><circle cx="1202.8" cy="793.2" r="8.95"/><circle cx="1204.7" cy="794.1" r="8.95"/><circle cx="1206.5" cy="794.9" r="8.95"/><circle cx="1208.3" cy="795.7" r="8.95"/><circle cx="1210.1" cy="796.5" r="8.95"/><circle cx="1334.4" cy="710.4" r="8.95"/><circle cx="1389.6" cy="664.1" r="8.95"/><circle cx="1356.5" cy="692.8" r="8.95"/><circle cx="1464.3" cy="524.4" r="8.95"/><circle cx="1452.2" cy="547.6" r="8.95"/><circle cx="1466.6" cy="597.2" r="8.95"/><circle cx="1441.2" cy="621.5" r="8.95"/><circle cx="1397.0" cy="659.0" r="8.95"/><circle cx="1359.6" cy="618.2" r="8.95"/><circle cx="1341.9" cy="705.3" r="8.95"/><circle cx="1328.7" cy="711.9" r="8.95"/><circle cx="1317.6" cy="716.3" r="8.95"/><circle cx="1673.8" cy="389.6" r="8.95"/><circle cx="1691.5" cy="399.6" r="8.95"/><circle cx="1639.6" cy="413.9" r="8.95"/><circle cx="1666.1" cy="427.1" r="8.95"/><circle cx="1612.1" cy="440.4" r="8.95"/><circle cx="1623.1" cy="450.3" r="8.95"/><circle cx="1592.2" cy="469.1" r="8.95"/><circle cx="1546.6" cy="466.8" r="8.95"/><circle cx="1516.1" cy="485.6" r="8.95"/><circle cx="1488.5" cy="504.3" r="8.95"/><circle cx="1831.8" cy="271.9" r="8.95"/><circle cx="1851.6" cy="284.7" r="8.95"/><circle cx="1795.8" cy="306.1" r="8.95"/><circle cx="1803.5" cy="312.7" r="8.95"/><circle cx="1767.1" cy="344.7" r="8.95"/><circle cx="1763.4" cy="348.0" r="8.95"/><circle cx="1717.5" cy="365.7" r="8.95"/><circle cx="1991.9" cy="169.1" r="8.95"/><circle cx="1933.9" cy="203.3" r="8.95"/><circle cx="1878.3" cy="237.5" r="8.95"/></g>
<g stroke="#2256A8"><path d="M1435.5 607.0L1446.8 587.8L1458.2 607.0Z"/><path d="M1433.4 613.7L1444.7 594.5L1456.1 613.7Z"/><path d="M1431.2 620.4L1442.6 601.2L1453.9 620.4Z"/><path d="M1429.1 627.1L1440.5 607.9L1451.8 627.1Z"/><path d="M1424.6 609.9L1435.9 590.7L1447.3 609.9Z"/><path d="M1422.5 616.5L1433.9 597.3L1445.2 616.5Z"/><path d="M1420.5 623.0L1431.8 603.8L1443.2 623.0Z"/><path d="M1418.4 629.6L1429.7 610.4L1441.1 629.6Z"/><path d="M1425.0 624.2L1436.4 605.0L1447.7 624.2Z"/><path d="M1423.0 630.7L1434.4 611.5L1445.7 630.7Z"/><path d="M1421.0 637.1L1432.3 617.9L1443.7 637.1Z"/><path d="M1419.0 643.5L1430.3 624.3L1441.7 643.5Z"/><path d="M1417.8 628.3L1429.2 609.1L1440.5 628.3Z"/><path d="M1415.8 634.6L1427.2 615.4L1438.5 634.6Z"/><path d="M1413.8 640.9L1425.2 621.7L1436.5 640.9Z"/><path d="M1411.8 647.2L1423.2 628.0L1434.5 647.2Z"/><path d="M1400.1 625.3L1411.5 606.1L1422.8 625.3Z"/><path d="M1398.2 631.4L1409.5 612.2L1420.9 631.4Z"/><path d="M1396.2 637.6L1407.6 618.4L1418.9 637.6Z"/><path d="M1394.3 643.7L1405.6 624.5L1417.0 643.7Z"/><path d="M1389.3 629.8L1400.6 610.6L1412.0 629.8Z"/><path d="M1387.4 635.8L1398.7 616.6L1410.1 635.8Z"/><path d="M1385.4 641.9L1396.8 622.7L1408.1 641.9Z"/><path d="M1383.5 647.9L1394.9 628.7L1406.2 647.9Z"/><path d="M1381.2 628.6L1392.6 609.4L1403.9 628.6Z"/><path d="M1379.3 634.5L1390.7 615.3L1402.0 634.5Z"/><path d="M1377.5 640.4L1388.8 621.2L1400.2 640.4Z"/><path d="M1375.6 646.3L1387.0 627.1L1398.3 646.3Z"/><path d="M1382.7 653.3L1394.1 634.1L1405.4 653.3Z"/><path d="M1380.9 659.0L1392.3 639.8L1403.6 659.0Z"/><path d="M1379.1 664.8L1390.5 645.6L1401.8 664.8Z"/><path d="M1377.3 670.6L1388.6 651.4L1400.0 670.6Z"/><path d="M1366.7 646.3L1378.0 627.1L1389.4 646.3Z"/><path d="M1364.9 651.9L1376.2 632.7L1387.6 651.9Z"/><path d="M1363.1 657.5L1374.5 638.3L1385.8 657.5Z"/><path d="M1361.3 663.2L1372.7 644.0L1384.0 663.2Z"/><path d="M1361.5 655.8L1372.9 636.6L1384.2 655.8Z"/><path d="M1359.8 661.3L1371.1 642.1L1382.5 661.3Z"/><path d="M1358.0 666.8L1369.4 647.6L1380.7 666.8Z"/><path d="M1356.3 672.3L1367.6 653.1L1379.0 672.3Z"/><path d="M1352.6 660.1L1363.9 640.9L1375.3 660.1Z"/><path d="M1350.9 665.4L1362.2 646.2L1373.6 665.4Z"/><path d="M1349.2 670.8L1360.5 651.6L1371.9 670.8Z"/><path d="M1347.5 676.2L1358.8 657.0L1370.2 676.2Z"/><path d="M1351.9 669.1L1363.2 649.9L1374.6 669.1Z"/><path d="M1350.2 674.3L1361.6 655.1L1372.9 674.3Z"/><path d="M1348.6 679.6L1359.9 660.4L1371.3 679.6Z"/><path d="M1346.9 684.8L1358.3 665.6L1369.6 684.8Z"/><path d="M1342.3 678.4L1353.7 659.2L1365.0 678.4Z"/><path d="M1340.7 683.5L1352.1 664.3L1363.4 683.5Z"/><path d="M1339.1 688.6L1350.5 669.4L1361.8 688.6Z"/><path d="M1337.5 693.7L1348.8 674.5L1360.2 693.7Z"/><path d="M1329.6 675.4L1340.9 656.2L1352.3 675.4Z"/><path d="M1328.0 680.3L1339.4 661.1L1350.7 680.3Z"/><path d="M1326.4 685.3L1337.8 666.1L1349.1 685.3Z"/><path d="M1324.9 690.3L1336.2 671.1L1347.6 690.3Z"/><path d="M1319.9 678.6L1331.3 659.4L1342.6 678.6Z"/><path d="M1318.4 683.4L1329.7 664.2L1341.1 683.4Z"/><path d="M1316.8 688.3L1328.2 669.1L1339.5 688.3Z"/><path d="M1315.3 693.1L1326.7 673.9L1338.0 693.1Z"/><path d="M1315.8 684.6L1327.2 665.4L1338.5 684.6Z"/><path d="M1314.3 689.4L1325.7 670.2L1337.0 689.4Z"/><path d="M1312.8 694.1L1324.2 674.9L1335.5 694.1Z"/><path d="M1311.3 698.8L1322.7 679.6L1334.0 698.8Z"/><path d="M1312.9 698.7L1324.2 679.5L1335.6 698.7Z"/><path d="M1311.4 703.3L1322.8 684.1L1334.1 703.3Z"/><path d="M1310.0 707.9L1321.3 688.7L1332.7 707.9Z"/><path d="M1308.5 712.4L1319.9 693.2L1331.2 712.4Z"/><path d="M1296.7 696.7L1308.1 677.5L1319.4 696.7Z"/><path d="M1295.3 701.2L1306.7 682.0L1318.0 701.2Z"/><path d="M1293.9 705.7L1305.3 686.5L1316.6 705.7Z"/><path d="M1292.5 710.1L1303.8 690.9L1315.2 710.1Z"/><path d="M1292.2 705.0L1303.5 685.8L1314.9 705.0Z"/><path d="M1290.8 709.4L1302.2 690.2L1313.5 709.4Z"/><path d="M1289.4 713.7L1300.8 694.5L1312.1 713.7Z"/><path d="M1288.1 718.0L1299.4 698.8L1310.8 718.0Z"/><path d="M1284.5 707.5L1295.8 688.3L1307.2 707.5Z"/><path d="M1283.1 711.7L1294.5 692.5L1305.8 711.7Z"/><path d="M1281.8 715.9L1293.2 696.7L1304.5 715.9Z"/><path d="M1280.5 720.1L1291.8 700.9L1303.2 720.1Z"/><path d="M1276.0 713.6L1287.4 694.4L1298.7 713.6Z"/><path d="M1274.7 717.7L1286.1 698.5L1297.4 717.7Z"/><path d="M1273.4 721.8L1284.8 702.6L1296.1 721.8Z"/><path d="M1272.1 725.9L1283.5 706.7L1294.8 725.9Z"/><path d="M1275.5 727.1L1286.8 707.9L1298.2 727.1Z"/><path d="M1274.2 731.0L1285.6 711.8L1296.9 731.0Z"/><path d="M1273.0 734.9L1284.3 715.7L1295.7 734.9Z"/><path d="M1271.8 738.9L1283.1 719.7L1294.5 738.9Z"/><path d="M1262.9 727.6L1274.2 708.4L1285.6 727.6Z"/><path d="M1261.7 731.4L1273.0 712.2L1284.4 731.4Z"/><path d="M1260.4 735.2L1271.8 716.0L1283.1 735.2Z"/><path d="M1259.2 739.1L1270.6 719.9L1281.9 739.1Z"/><path d="M1258.1 735.9L1269.4 716.7L1280.8 735.9Z"/><path d="M1256.9 739.5L1268.3 720.3L1279.6 739.5Z"/><path d="M1255.7 743.2L1267.1 724.0L1278.4 743.2Z"/><path d="M1254.6 746.9L1265.9 727.7L1277.3 746.9Z"/><path d="M1245.3 739.5L1256.7 720.3L1268.0 739.5Z"/><path d="M1244.2 743.1L1255.5 723.9L1266.9 743.1Z"/><path d="M1243.1 746.6L1254.4 727.4L1265.8 746.6Z"/><path d="M1241.9 750.2L1253.3 731.0L1264.6 750.2Z"/><path d="M1239.7 747.6L1251.1 728.4L1262.4 747.6Z"/><path d="M1238.6 751.0L1250.0 731.8L1261.3 751.0Z"/><path d="M1237.6 754.4L1248.9 735.2L1260.3 754.4Z"/><path d="M1236.5 757.9L1247.8 738.7L1259.2 757.9Z"/><path d="M1238.0 759.0L1249.3 739.8L1260.7 759.0Z"/><path d="M1236.9 762.3L1248.3 743.1L1259.6 762.3Z"/><path d="M1235.9 765.5L1247.2 746.3L1258.6 765.5Z"/><path d="M1234.8 768.8L1246.2 749.6L1257.5 768.8Z"/><path d="M1233.0 765.9L1244.3 746.7L1255.7 765.9Z"/><path d="M1232.0 769.1L1243.3 749.9L1254.7 769.1Z"/><path d="M1231.0 772.2L1242.3 753.0L1253.7 772.2Z"/><path d="M1230.0 775.4L1241.3 756.2L1252.7 775.4Z"/><path d="M1221.8 769.1L1233.2 749.9L1244.5 769.1Z"/><path d="M1220.9 772.1L1232.2 752.9L1243.6 772.1Z"/><path d="M1219.9 775.1L1231.3 755.9L1242.6 775.1Z"/><path d="M1218.9 778.2L1230.3 759.0L1241.6 778.2Z"/><path d="M1219.4 780.6L1230.8 761.4L1242.1 780.6Z"/><path d="M1218.5 783.5L1229.9 764.3L1241.2 783.5Z"/><path d="M1217.6 786.4L1228.9 767.2L1240.3 786.4Z"/><path d="M1216.7 789.3L1228.0 770.1L1239.4 789.3Z"/><path d="M1215.2 788.5L1226.6 769.3L1237.9 788.5Z"/><path d="M1214.4 791.2L1225.7 772.0L1237.1 791.2Z"/><path d="M1213.5 794.0L1224.8 774.8L1236.2 794.0Z"/><path d="M1212.6 796.8L1224.0 777.6L1235.3 796.8Z"/><path d="M1208.3 794.8L1219.7 775.6L1231.0 794.8Z"/><path d="M1207.5 797.5L1218.8 778.3L1230.2 797.5Z"/><path d="M1206.6 800.1L1218.0 780.9L1229.3 800.1Z"/><path d="M1205.8 802.8L1217.1 783.6L1228.5 802.8Z"/><path d="M1202.3 803.2L1213.7 784.0L1225.0 803.2Z"/><path d="M1201.5 805.8L1212.9 786.6L1224.2 805.8Z"/><path d="M1200.7 808.3L1212.1 789.1L1223.4 808.3Z"/><path d="M1199.9 810.8L1211.3 791.6L1222.6 810.8Z"/><path d="M1191.5 806.5L1202.8 787.3L1214.2 806.5Z"/><path d="M1190.7 808.9L1202.1 789.7L1213.4 808.9Z"/><path d="M1189.9 811.3L1201.3 792.1L1212.6 811.3Z"/><path d="M1189.2 813.6L1200.5 794.4L1211.9 813.6Z"/><path d="M1400.1 548.4L1411.4 529.2L1422.8 548.4Z"/><path d="M1418.9 534.0L1430.2 514.8L1441.5 534.0Z"/><path d="M1429.9 548.4L1441.2 529.2L1452.5 548.4Z"/><path d="M1391.2 568.2L1402.6 549.0L1413.9 568.2Z"/><path d="M1411.1 562.7L1422.4 543.5L1433.8 562.7Z"/><path d="M1428.7 566.0L1440.0 546.8L1451.3 566.0Z"/><path d="M1394.6 581.4L1405.9 562.2L1417.2 581.4Z"/><path d="M1411.1 581.4L1422.4 562.2L1433.8 581.4Z"/><path d="M1380.2 593.6L1391.5 574.4L1402.8 593.6Z"/><path d="M1392.4 598.0L1403.7 578.8L1415.0 598.0Z"/><path d="M1368.1 610.1L1379.4 590.9L1390.8 610.1Z"/><path d="M1381.4 613.4L1392.7 594.2L1404.0 613.4Z"/><path d="M1359.2 624.5L1370.6 605.3L1381.9 624.5Z"/><path d="M1352.7 639.9L1364.0 620.7L1375.3 639.9Z"/><path d="M1338.2 648.7L1349.6 629.5L1360.9 648.7Z"/><path d="M1315.2 667.5L1326.5 648.3L1337.8 667.5Z"/><path d="M1299.7 684.0L1311.0 664.8L1322.3 684.0Z"/><path d="M1471.7 581.6L1483.0 562.4L1494.3 581.6Z"/><path d="M1479.5 585.9L1490.8 566.7L1502.1 585.9Z"/><path d="M1444.2 609.6L1455.5 590.4L1466.8 609.6Z"/><path d="M1444.2 612.1L1455.5 592.9L1466.8 612.1Z"/><path d="M1444.2 614.5L1455.5 595.3L1466.8 614.5Z"/><path d="M1418.9 627.8L1430.2 608.6L1441.5 627.8Z"/><path d="M1425.5 631.6L1436.8 612.4L1448.1 631.6Z"/><path d="M1425.5 633.6L1436.8 614.4L1448.1 633.6Z"/><path d="M1425.5 635.5L1436.8 616.3L1448.1 635.5Z"/><path d="M1407.8 648.7L1419.1 629.5L1430.4 648.7Z"/><path d="M1397.9 655.6L1409.2 636.4L1420.5 655.6Z"/><path d="M1397.9 657.7L1409.2 638.5L1420.5 657.7Z"/><path d="M1397.9 659.8L1409.2 640.6L1420.5 659.8Z"/><path d="M1369.2 684.0L1380.5 664.8L1391.8 684.0Z"/><path d="M1360.4 689.6L1371.7 670.4L1383.0 689.6Z"/><path d="M1360.4 691.8L1371.7 672.5L1383.0 691.8Z"/><path d="M1360.4 693.9L1371.7 674.7L1383.0 693.9Z"/><path d="M1336.1 705.0L1347.4 685.8L1358.8 705.0Z"/><path d="M1321.7 710.5L1333.0 691.3L1344.3 710.5Z"/><path d="M1651.5 357.3L1662.8 338.1L1674.1 357.3Z"/><path d="M1660.2 376.1L1671.6 356.9L1682.9 376.1Z"/><path d="M1619.1 381.6L1630.4 362.4L1641.8 381.6Z"/><path d="M1587.5 407.0L1598.8 387.8L1610.1 407.0Z"/><path d="M1562.2 433.0L1573.5 413.8L1584.8 433.0Z"/><path d="M1541.2 458.8L1552.5 439.6L1563.8 458.8Z"/><path d="M1485.6 469.8L1496.9 450.6L1508.2 469.8Z"/><path d="M1508.1 485.9L1519.4 466.7L1530.8 485.9Z"/><path d="M1460.7 489.2L1472.0 470.0L1483.3 489.2Z"/><path d="M1557.7 478.7L1569.0 459.5L1580.3 478.7Z"/><path d="M1438.0 508.9L1449.3 489.7L1460.6 508.9Z"/><path d="M1664.7 400.3L1676.0 381.1L1687.3 400.3Z"/><path d="M1678.0 402.5L1689.3 383.3L1700.6 402.5Z"/><path d="M1633.9 425.7L1645.2 406.5L1656.5 425.7Z"/><path d="M1609.2 451.1L1620.5 431.9L1631.8 451.1Z"/><path d="M1668.5 316.1L1679.8 296.9L1691.1 316.1Z"/><path d="M1781.2 277.1L1792.5 257.9L1803.8 277.1Z"/><path d="M1801.1 306.9L1812.4 287.7L1823.8 306.9Z"/><path d="M1774.6 308.0L1785.9 288.8L1797.2 308.0Z"/><path d="M1763.6 337.8L1774.9 318.6L1786.2 337.8Z"/><path d="M1746.2 338.6L1757.5 319.4L1768.8 338.6Z"/><path d="M1744.6 341.6L1755.9 322.4L1767.3 341.6Z"/><path d="M1743.0 344.7L1754.4 325.5L1765.7 344.7Z"/><path d="M1741.5 347.7L1752.8 328.5L1764.1 347.7Z"/><path d="M1733.2 370.9L1744.6 351.7L1755.9 370.9Z"/><path d="M1702.2 373.1L1713.5 353.9L1724.8 373.1Z"/><path d="M1943.5 126.9L1954.8 107.7L1966.1 126.9Z"/><path d="M1892.2 163.7L1903.6 144.5L1914.9 163.7Z"/><path d="M1844.9 201.2L1856.2 182.0L1867.5 201.2Z"/><path d="M1807.4 238.7L1818.7 219.5L1830.0 238.7Z"/><path d="M1911.5 206.3L1922.8 187.1L1934.1 206.3Z"/><path d="M1860.8 239.4L1872.1 220.2L1883.4 239.4Z"/><path d="M1897.4 242.7L1908.7 223.5L1920.0 242.7Z"/><path d="M1814.0 271.4L1825.3 252.2L1836.6 271.4Z"/><path d="M1847.6 272.5L1858.9 253.3L1870.2 272.5Z"/></g>
<g stroke="#000000"><path d="M1491.7 535.8L1503.0 555.0L1514.3 535.8Z"/><path d="M1518.1 520.3L1529.4 539.5L1540.8 520.3Z"/><path d="M1535.8 521.4L1547.1 540.6L1558.4 521.4Z"/><path d="M1519.2 543.5L1530.5 562.7L1541.8 543.5Z"/><path d="M1482.3 551.2L1493.6 570.4L1505.0 551.2Z"/><path d="M1472.6 555.0L1484.0 574.2L1495.3 555.0Z"/><path d="M1462.9 558.7L1474.3 577.9L1485.6 558.7Z"/><path d="M1453.2 562.5L1464.6 581.7L1475.9 562.5Z"/><path d="M1456.8 560.7L1468.1 579.9L1479.5 560.7Z"/><path d="M1452.7 566.3L1464.0 585.5L1475.4 566.3Z"/><path d="M1448.6 571.8L1459.9 591.0L1471.3 571.8Z"/><path d="M1444.5 577.4L1455.8 596.6L1467.2 577.4Z"/><path d="M1443.3 584.1L1454.7 603.3L1466.0 584.1Z"/><path d="M1436.3 584.1L1447.7 603.3L1459.0 584.1Z"/><path d="M1429.4 584.2L1440.7 603.4L1452.1 584.2Z"/><path d="M1422.4 584.2L1433.7 603.4L1445.1 584.2Z"/><path d="M1438.7 586.5L1450.0 605.7L1461.3 586.5Z"/><path d="M1428.7 581.4L1440.0 600.6L1451.3 581.4Z"/><path d="M1422.7 591.4L1434.0 610.6L1445.3 591.4Z"/><path d="M1412.2 587.9L1423.6 607.1L1434.9 587.9Z"/><path d="M1402.8 606.1L1414.1 625.3L1425.4 606.1Z"/><path d="M1408.7 620.4L1420.0 639.6L1431.3 620.4Z"/><path d="M1393.7 611.4L1405.0 630.6L1416.3 611.4Z"/><path d="M1385.5 620.3L1396.8 639.5L1408.1 620.3Z"/><path d="M1385.5 631.4L1396.8 650.6L1408.1 631.4Z"/><path d="M1371.2 636.0L1382.6 655.2L1393.9 636.0Z"/><path d="M1358.7 639.4L1370.0 658.6L1381.3 639.4Z"/><path d="M1362.7 649.4L1374.0 668.6L1385.3 649.4Z"/><path d="M1349.2 660.4L1360.5 679.6L1371.8 660.4Z"/><path d="M1338.2 667.9L1349.5 687.1L1360.8 667.9Z"/><path d="M1326.4 659.7L1337.7 678.9L1349.0 659.7Z"/><path d="M1328.7 682.0L1340.0 701.2L1351.3 682.0Z"/><path d="M1316.7 673.4L1328.0 692.6L1339.3 673.4Z"/><path d="M1305.9 675.4L1317.2 694.6L1328.5 675.4Z"/><path d="M1306.7 699.4L1318.0 718.6L1329.3 699.4Z"/><path d="M1295.7 694.4L1307.0 713.6L1318.3 694.4Z"/><path d="M1283.0 707.3L1294.3 726.5L1305.6 707.3Z"/><path d="M1424.7 583.9L1436.0 603.1L1447.3 583.9Z"/><path d="M1418.7 593.9L1430.0 613.1L1441.3 593.9Z"/><path d="M1408.2 590.4L1419.6 609.6L1430.9 590.4Z"/><path d="M1398.8 608.6L1410.1 627.8L1421.4 608.6Z"/><path d="M1404.7 622.9L1416.0 642.1L1427.3 622.9Z"/><path d="M1389.7 613.9L1401.0 633.1L1412.3 613.9Z"/><path d="M1381.5 622.8L1392.8 642.0L1404.1 622.8Z"/><path d="M1381.5 633.9L1392.8 653.1L1404.1 633.9Z"/><path d="M1367.2 638.5L1378.6 657.7L1389.9 638.5Z"/><path d="M1354.7 641.9L1366.0 661.1L1377.3 641.9Z"/><path d="M1358.7 651.9L1370.0 671.1L1381.3 651.9Z"/><path d="M1345.2 662.9L1356.5 682.1L1367.8 662.9Z"/><path d="M1334.2 670.4L1345.5 689.6L1356.8 670.4Z"/><path d="M1322.4 662.2L1333.7 681.4L1345.0 662.2Z"/><path d="M1324.7 684.5L1336.0 703.7L1347.3 684.5Z"/><path d="M1312.7 675.9L1324.0 695.1L1335.3 675.9Z"/><path d="M1301.9 677.9L1313.2 697.1L1324.5 677.9Z"/><path d="M1302.7 701.9L1314.0 721.1L1325.3 701.9Z"/><path d="M1291.7 696.9L1303.0 716.1L1314.3 696.9Z"/><path d="M1279.0 709.8L1290.3 729.0L1301.6 709.8Z"/><path d="M1420.7 586.4L1432.0 605.6L1443.3 586.4Z"/><path d="M1414.7 596.4L1426.0 615.6L1437.3 596.4Z"/><path d="M1404.2 592.9L1415.6 612.1L1426.9 592.9Z"/><path d="M1394.8 611.1L1406.1 630.3L1417.4 611.1Z"/><path d="M1400.7 625.4L1412.0 644.6L1423.3 625.4Z"/><path d="M1385.7 616.4L1397.0 635.6L1408.3 616.4Z"/><path d="M1377.5 625.3L1388.8 644.5L1400.1 625.3Z"/><path d="M1377.5 636.4L1388.8 655.6L1400.1 636.4Z"/><path d="M1363.2 641.0L1374.6 660.2L1385.9 641.0Z"/><path d="M1350.7 644.4L1362.0 663.6L1373.3 644.4Z"/><path d="M1354.7 654.4L1366.0 673.6L1377.3 654.4Z"/><path d="M1341.2 665.4L1352.5 684.6L1363.8 665.4Z"/><path d="M1330.2 672.9L1341.5 692.1L1352.8 672.9Z"/><path d="M1318.4 664.7L1329.7 683.9L1341.0 664.7Z"/><path d="M1320.7 687.0L1332.0 706.2L1343.3 687.0Z"/><path d="M1308.7 678.4L1320.0 697.6L1331.3 678.4Z"/><path d="M1297.9 680.4L1309.2 699.6L1320.5 680.4Z"/><path d="M1298.7 704.4L1310.0 723.6L1321.3 704.4Z"/><path d="M1287.7 699.4L1299.0 718.6L1310.3 699.4Z"/><path d="M1275.0 712.3L1286.3 731.5L1297.6 712.3Z"/><path d="M1291.1 688.2L1302.5 707.4L1313.8 688.2Z"/><path d="M1288.3 693.5L1299.6 712.7L1311.0 693.5Z"/><path d="M1285.4 698.9L1296.7 718.1L1308.1 698.9Z"/><path d="M1282.5 704.2L1293.9 723.4L1305.2 704.2Z"/><path d="M1279.7 709.5L1291.0 728.7L1302.4 709.5Z"/><path d="M1289.6 701.9L1301.0 721.1L1312.3 701.9Z"/><path d="M1282.2 703.4L1293.6 722.6L1304.9 703.4Z"/><path d="M1274.8 705.0L1286.1 724.2L1297.5 705.0Z"/><path d="M1267.3 706.6L1278.7 725.8L1290.0 706.6Z"/><path d="M1259.9 708.2L1271.2 727.4L1282.6 708.2Z"/><path d="M1279.7 697.2L1291.0 716.4L1302.4 697.2Z"/><path d="M1273.3 701.3L1284.6 720.5L1296.0 701.3Z"/><path d="M1266.9 705.4L1278.2 724.6L1289.6 705.4Z"/><path d="M1260.5 709.6L1271.8 728.8L1283.2 709.6Z"/><path d="M1254.1 713.7L1265.4 732.9L1276.8 713.7Z"/><path d="M1275.5 695.9L1286.9 715.1L1298.2 695.9Z"/><path d="M1270.6 700.1L1282.0 719.3L1293.3 700.1Z"/><path d="M1265.8 704.3L1277.1 723.5L1288.5 704.3Z"/><path d="M1260.9 708.5L1272.2 727.7L1283.6 708.5Z"/><path d="M1256.0 712.7L1267.3 731.9L1278.7 712.7Z"/><path d="M1259.8 702.9L1271.2 722.1L1282.5 702.9Z"/><path d="M1258.6 707.1L1269.9 726.3L1281.3 707.1Z"/><path d="M1257.3 711.3L1268.6 730.5L1280.0 711.3Z"/><path d="M1256.0 715.4L1267.3 734.6L1278.7 715.4Z"/><path d="M1254.7 719.6L1266.1 738.8L1277.4 719.6Z"/><path d="M1259.6 703.5L1271.0 722.7L1282.3 703.5Z"/><path d="M1256.4 707.2L1267.7 726.4L1279.1 707.2Z"/><path d="M1253.2 711.0L1264.5 730.2L1275.9 711.0Z"/><path d="M1249.9 714.8L1261.3 734.0L1272.6 714.8Z"/><path d="M1246.7 718.5L1258.0 737.7L1269.4 718.5Z"/><path d="M1260.0 715.2L1271.3 734.4L1282.7 715.2Z"/><path d="M1256.2 720.8L1267.6 740.0L1278.9 720.8Z"/><path d="M1252.4 726.4L1263.8 745.6L1275.1 726.4Z"/><path d="M1248.7 732.0L1260.0 751.2L1271.4 732.0Z"/><path d="M1244.9 737.6L1256.2 756.8L1267.6 737.6Z"/><path d="M1252.6 717.3L1264.0 736.5L1275.3 717.3Z"/><path d="M1249.2 720.8L1260.5 740.0L1271.9 720.8Z"/><path d="M1245.7 724.3L1257.1 743.5L1268.4 724.3Z"/><path d="M1242.2 727.8L1253.6 747.0L1264.9 727.8Z"/><path d="M1238.8 731.3L1250.1 750.5L1261.5 731.3Z"/><path d="M1253.7 733.6L1265.1 752.8L1276.4 733.6Z"/><path d="M1250.3 733.8L1261.6 753.0L1273.0 733.8Z"/><path d="M1246.8 734.1L1258.2 753.3L1269.5 734.1Z"/><path d="M1243.4 734.4L1254.7 753.6L1266.1 734.4Z"/><path d="M1239.9 734.6L1251.2 753.8L1262.6 734.6Z"/><path d="M1249.5 735.4L1260.9 754.6L1272.2 735.4Z"/><path d="M1243.8 735.1L1255.1 754.3L1266.5 735.1Z"/><path d="M1238.0 734.8L1249.4 754.0L1260.7 734.8Z"/><path d="M1232.3 734.5L1243.6 753.7L1255.0 734.5Z"/><path d="M1226.5 734.2L1237.9 753.4L1249.2 734.2Z"/><path d="M1236.6 733.8L1247.9 753.0L1259.3 733.8Z"/><path d="M1235.5 736.7L1246.8 755.9L1258.2 736.7Z"/><path d="M1234.4 739.7L1245.7 758.9L1257.1 739.7Z"/><path d="M1233.3 742.6L1244.6 761.8L1256.0 742.6Z"/><path d="M1232.2 745.6L1243.5 764.8L1254.9 745.6Z"/><path d="M1235.0 740.3L1246.4 759.5L1257.7 740.3Z"/><path d="M1233.3 743.0L1244.6 762.2L1256.0 743.0Z"/><path d="M1231.5 745.6L1242.9 764.8L1254.2 745.6Z"/><path d="M1229.8 748.2L1241.1 767.4L1252.5 748.2Z"/><path d="M1228.0 750.8L1239.4 770.0L1250.7 750.8Z"/><path d="M1228.3 745.7L1239.7 764.9L1251.0 745.7Z"/><path d="M1225.1 748.9L1236.4 768.1L1247.8 748.9Z"/><path d="M1221.8 752.0L1233.1 771.2L1244.5 752.0Z"/><path d="M1218.5 755.2L1229.9 774.4L1241.2 755.2Z"/><path d="M1215.2 758.3L1226.6 777.5L1237.9 758.3Z"/><path d="M1224.8 751.9L1236.1 771.1L1247.5 751.9Z"/><path d="M1222.7 754.4L1234.0 773.6L1245.4 754.4Z"/><path d="M1220.6 756.9L1231.9 776.1L1243.3 756.9Z"/><path d="M1218.5 759.4L1229.8 778.6L1241.2 759.4Z"/><path d="M1216.4 761.9L1227.8 781.1L1239.1 761.9Z"/><path d="M1224.5 755.3L1235.9 774.5L1247.2 755.3Z"/><path d="M1222.7 759.6L1234.0 778.8L1245.4 759.6Z"/><path d="M1220.8 763.9L1232.2 783.1L1243.5 763.9Z"/><path d="M1219.0 768.2L1230.3 787.4L1241.7 768.2Z"/><path d="M1217.1 772.5L1228.5 791.7L1239.8 772.5Z"/><path d="M1215.1 759.4L1226.5 778.6L1237.8 759.4Z"/><path d="M1213.0 763.0L1224.4 782.2L1235.7 763.0Z"/><path d="M1210.9 766.6L1222.2 785.8L1233.6 766.6Z"/><path d="M1208.8 770.2L1220.1 789.4L1231.5 770.2Z"/><path d="M1206.7 773.8L1218.0 793.0L1229.4 773.8Z"/><path d="M1214.4 768.3L1225.7 787.5L1237.1 768.3Z"/><path d="M1212.2 770.2L1223.6 789.4L1234.9 770.2Z"/><path d="M1210.1 772.0L1221.5 791.2L1232.8 772.0Z"/><path d="M1208.0 773.9L1219.4 793.1L1230.7 773.9Z"/><path d="M1205.9 775.7L1217.3 794.9L1228.6 775.7Z"/><path d="M1199.6 766.9L1211.0 786.1L1222.3 766.9Z"/><path d="M1198.7 770.5L1210.0 789.7L1221.4 770.5Z"/><path d="M1197.7 774.1L1209.1 793.3L1220.4 774.1Z"/><path d="M1196.7 777.7L1208.1 796.9L1219.4 777.7Z"/><path d="M1195.8 781.3L1207.1 800.5L1218.5 781.3Z"/><path d="M1207.8 781.0L1219.2 800.2L1230.5 781.0Z"/><path d="M1205.1 783.2L1216.4 802.4L1227.8 783.2Z"/><path d="M1202.4 785.5L1213.7 804.7L1225.1 785.5Z"/><path d="M1199.6 787.7L1211.0 806.9L1222.3 787.7Z"/><path d="M1196.9 789.9L1208.2 809.1L1219.6 789.9Z"/><path d="M1199.9 783.9L1211.2 803.1L1222.6 783.9Z"/><path d="M1197.6 784.0L1208.9 803.2L1220.3 784.0Z"/><path d="M1195.3 784.1L1206.6 803.3L1218.0 784.1Z"/><path d="M1193.0 784.2L1204.4 803.4L1215.7 784.2Z"/><path d="M1190.7 784.3L1202.1 803.5L1213.4 784.3Z"/><path d="M1190.7 789.1L1202.0 808.3L1213.3 789.1Z"/><path d="M1671.4 394.4L1682.7 413.6L1694.0 394.4Z"/><path d="M1635.0 418.6L1646.3 437.8L1657.6 418.6Z"/><path d="M1658.8 440.7L1670.1 459.9L1681.4 440.7Z"/><path d="M1603.6 442.9L1614.9 462.1L1626.2 442.9Z"/><path d="M1621.7 461.2L1633.0 480.4L1644.3 461.2Z"/><path d="M1578.7 467.2L1590.0 486.4L1601.3 467.2Z"/><path d="M1588.0 481.5L1599.3 500.7L1610.6 481.5Z"/><path d="M1560.0 491.4L1571.3 510.6L1582.6 491.4Z"/><path d="M1558.9 502.5L1570.2 521.7L1581.5 502.5Z"/><path d="M1544.5 501.4L1555.8 520.6L1567.1 501.4Z"/><path d="M1769.1 263.4L1780.4 282.6L1791.8 263.4Z"/><path d="M1781.2 275.6L1792.5 294.8L1803.8 275.6Z"/><path d="M1799.5 263.4L1810.8 282.6L1822.1 263.4Z"/><path d="M1764.0 286.6L1775.3 305.8L1786.6 286.6Z"/><path d="M1777.9 302.0L1789.2 321.2L1800.5 302.0Z"/><path d="M1743.7 321.9L1755.0 341.1L1766.3 321.9Z"/><path d="M1710.2 371.5L1721.5 390.7L1732.8 371.5Z"/><path d="M1971.1 62.5L1982.4 81.7L1993.8 62.5Z"/><path d="M1989.0 79.7L2000.3 98.9L2011.6 79.7Z"/><path d="M1996.0 112.1L2007.3 131.3L2018.6 112.1Z"/><path d="M1914.4 102.2L1925.7 121.4L1937.0 102.2Z"/><path d="M1932.0 117.6L1943.3 136.8L1954.6 117.6Z"/><path d="M1955.2 140.8L1966.5 160.0L1977.8 140.8Z"/><path d="M1935.4 149.6L1946.7 168.8L1958.0 149.6Z"/><path d="M1861.5 141.9L1872.8 161.1L1884.1 141.9Z"/><path d="M1877.6 157.3L1888.9 176.5L1900.2 157.3Z"/><path d="M1896.1 176.7L1907.4 195.9L1918.8 176.7Z"/><path d="M1879.8 187.1L1891.1 206.3L1902.4 187.1Z"/><path d="M1818.9 182.2L1830.2 201.4L1841.5 182.2Z"/><path d="M1832.8 195.9L1844.1 215.1L1855.4 195.9Z"/><path d="M1842.7 213.6L1854.0 232.8L1865.3 213.6Z"/><path d="M1835.0 224.6L1846.3 243.8L1857.6 224.6Z"/><path d="M1788.0 222.4L1799.3 241.6L1810.6 222.4Z"/><path d="M1799.7 236.7L1811.0 255.9L1822.3 236.7Z"/><path d="M1798.6 248.9L1809.9 268.1L1821.2 248.9Z"/></g>
</g>
<g stroke="#000" stroke-width="4.8" stroke-linecap="round">
<line x1="163.8" y1="795.6" x2="1005.2" y2="68.7"/>
<line x1="1204.5" y1="789.3" x2="2008" y2="70.2"/>
</g>
<g stroke="#231F20" stroke-width="2.4" fill="none" stroke-linecap="butt">
<path d="M125.6 42.5V838.8H1012.9"/>
<path d="M226.1 838.8V824"/>
<path d="M125.6 744.8H140.6"/>
<path d="M326.6 838.8V824"/>
<path d="M125.6 650.8H140.6"/>
<path d="M427.1 838.8V824"/>
<path d="M125.6 556.8H140.6"/>
<path d="M527.6 838.8V824"/>
<path d="M125.6 462.8H140.6"/>
<path d="M628.1 838.8V824"/>
<path d="M125.6 368.8H140.6"/>
<path d="M728.6 838.8V824"/>
<path d="M125.6 274.8H140.6"/>
<path d="M829.1 838.8V824"/>
<path d="M125.6 180.8H140.6"/>
<path d="M929.6 838.8V824"/>
<path d="M125.6 86.8H140.6"/>
<path d="M1160 42.5V838.8H2046.6"/>
<path d="M1204.5 838.8V824"/>
<path d="M1160 798.0H1175"/>
<path d="M1316.4 838.8V824"/>
<path d="M1160 695.7H1175"/>
<path d="M1428.3 838.8V824"/>
<path d="M1160 593.5H1175"/>
<path d="M1540.2 838.8V824"/>
<path d="M1160 491.2H1175"/>
<path d="M1652.1 838.8V824"/>
<path d="M1160 388.9H1175"/>
<path d="M1764.0 838.8V824"/>
<path d="M1160 286.7H1175"/>
<path d="M1875.9 838.8V824"/>
<path d="M1160 184.4H1175"/>
<path d="M1987.8 838.8V824"/>
<path d="M1160 82.1H1175"/>
</g>
<g fill="#231F20" opacity="0.999" font-family="'Liberation Serif', serif">
<text transform="translate(125.6 883) scale(1 1.07)" text-anchor="middle" font-size="41">0</text>
<text transform="translate(111 850.0) scale(1 1.07)" text-anchor="end" font-size="41">0</text>
<text transform="translate(226.1 883) scale(1 1.07)" text-anchor="middle" font-size="41">5</text>
<text transform="translate(111 756.0) scale(1 1.07)" text-anchor="end" font-size="41">5</text>
<text transform="translate(326.6 883) scale(1 1.07)" text-anchor="middle" font-size="41">10</text>
<text transform="translate(111 662.0) scale(1 1.07)" text-anchor="end" font-size="41">10</text>
<text transform="translate(427.1 883) scale(1 1.07)" text-anchor="middle" font-size="41">15</text>
<text transform="translate(111 568.0) scale(1 1.07)" text-anchor="end" font-size="41">15</text>
<text transform="translate(527.6 883) scale(1 1.07)" text-anchor="middle" font-size="41">20</text>
<text transform="translate(111 474.0) scale(1 1.07)" text-anchor="end" font-size="41">20</text>
<text transform="translate(628.1 883) scale(1 1.07)" text-anchor="middle" font-size="41">25</text>
<text transform="translate(111 380.0) scale(1 1.07)" text-anchor="end" font-size="41">25</text>
<text transform="translate(728.6 883) scale(1 1.07)" text-anchor="middle" font-size="41">30</text>
<text transform="translate(111 286.0) scale(1 1.07)" text-anchor="end" font-size="41">30</text>
<text transform="translate(829.1 883) scale(1 1.07)" text-anchor="middle" font-size="41">35</text>
<text transform="translate(111 192.0) scale(1 1.07)" text-anchor="end" font-size="41">35</text>
<text transform="translate(929.6 883) scale(1 1.07)" text-anchor="middle" font-size="41">40</text>
<text transform="translate(111 98.0) scale(1 1.07)" text-anchor="end" font-size="41">40</text>
<text transform="translate(1204.5 883) scale(1 1.07)" text-anchor="middle" font-size="41">0</text>
<text transform="translate(1145.5 809.2) scale(1 1.07)" text-anchor="end" font-size="41">0</text>
<text transform="translate(1316.4 883) scale(1 1.07)" text-anchor="middle" font-size="41">1</text>
<text transform="translate(1145.5 706.9) scale(1 1.07)" text-anchor="end" font-size="41">1</text>
<text transform="translate(1428.3 883) scale(1 1.07)" text-anchor="middle" font-size="41">2</text>
<text transform="translate(1145.5 604.7) scale(1 1.07)" text-anchor="end" font-size="41">2</text>
<text transform="translate(1540.2 883) scale(1 1.07)" text-anchor="middle" font-size="41">3</text>
<text transform="translate(1145.5 502.4) scale(1 1.07)" text-anchor="end" font-size="41">3</text>
<text transform="translate(1652.1 883) scale(1 1.07)" text-anchor="middle" font-size="41">4</text>
<text transform="translate(1145.5 400.1) scale(1 1.07)" text-anchor="end" font-size="41">4</text>
<text transform="translate(1764.0 883) scale(1 1.07)" text-anchor="middle" font-size="41">5</text>
<text transform="translate(1145.5 297.9) scale(1 1.07)" text-anchor="end" font-size="41">5</text>
<text transform="translate(1875.9 883) scale(1 1.07)" text-anchor="middle" font-size="41">6</text>
<text transform="translate(1145.5 195.6) scale(1 1.07)" text-anchor="end" font-size="41">6</text>
<text transform="translate(1987.8 883) scale(1 1.07)" text-anchor="middle" font-size="41">7</text>
<text transform="translate(1145.5 93.3) scale(1 1.07)" text-anchor="end" font-size="41">7</text>
<text transform="translate(577.7 936) scale(1.048 1)" text-anchor="middle" font-size="42">Измеренные значения ДП, ε'</text>
<text transform="translate(1610.7 936) scale(1.06 1)" text-anchor="middle" font-size="42">Измеренные значения КП, ε"</text>
<text transform="translate(40.3 421.2) rotate(-90) scale(1.045 1)" text-anchor="middle" font-size="42">Модельные значения ДП, ε'</text>
<text transform="translate(1093.8 421.2) rotate(-90) scale(1.05 1)" text-anchor="middle" font-size="42">Модельные значения КП, ε"</text>
<text transform="translate(578.4 38.6) scale(1.05 1)" text-anchor="middle" font-size="41.5" font-style="italic">а</text>
<text transform="translate(1609.4 38.8) scale(1.05 1)" text-anchor="middle" font-size="41.5" font-style="italic">б</text>
<text transform="translate(293.0 144.8) scale(1.11 1)" text-anchor="start" font-size="41">№</text>
<text transform="translate(357.2 144.8)" text-anchor="middle" font-size="41">1</text>
<text transform="translate(293.0 194.9) scale(1.11 1)" text-anchor="start" font-size="41">№</text>
<text transform="translate(357.2 194.9)" text-anchor="middle" font-size="41">2</text>
<text transform="translate(293.0 245.7) scale(1.11 1)" text-anchor="start" font-size="41">№</text>
<text transform="translate(357.2 245.7)" text-anchor="middle" font-size="41">3</text>
<text transform="translate(293.0 295.8) scale(1.11 1)" text-anchor="start" font-size="41">№</text>
<text transform="translate(357.2 295.8)" text-anchor="middle" font-size="41">4</text>
</g>
<g fill="#fff" stroke-width="3.1" stroke-linejoin="round">
<g stroke="#F58220"><rect x="264.3" y="123.6" width="15.4" height="15.4"/></g>
<g stroke="#EE2A2A"><circle cx="271.9" cy="181.3" r="8.95"/></g>
<g stroke="#2256A8"><path d="M260.9 238.7L272.3 219.5L283.7 238.7Z"/></g>
<g stroke="#000000"><path d="M260.9 276.1L272.3 295.3L283.7 276.1Z"/></g>
</g>
</svg>
</body></html>
